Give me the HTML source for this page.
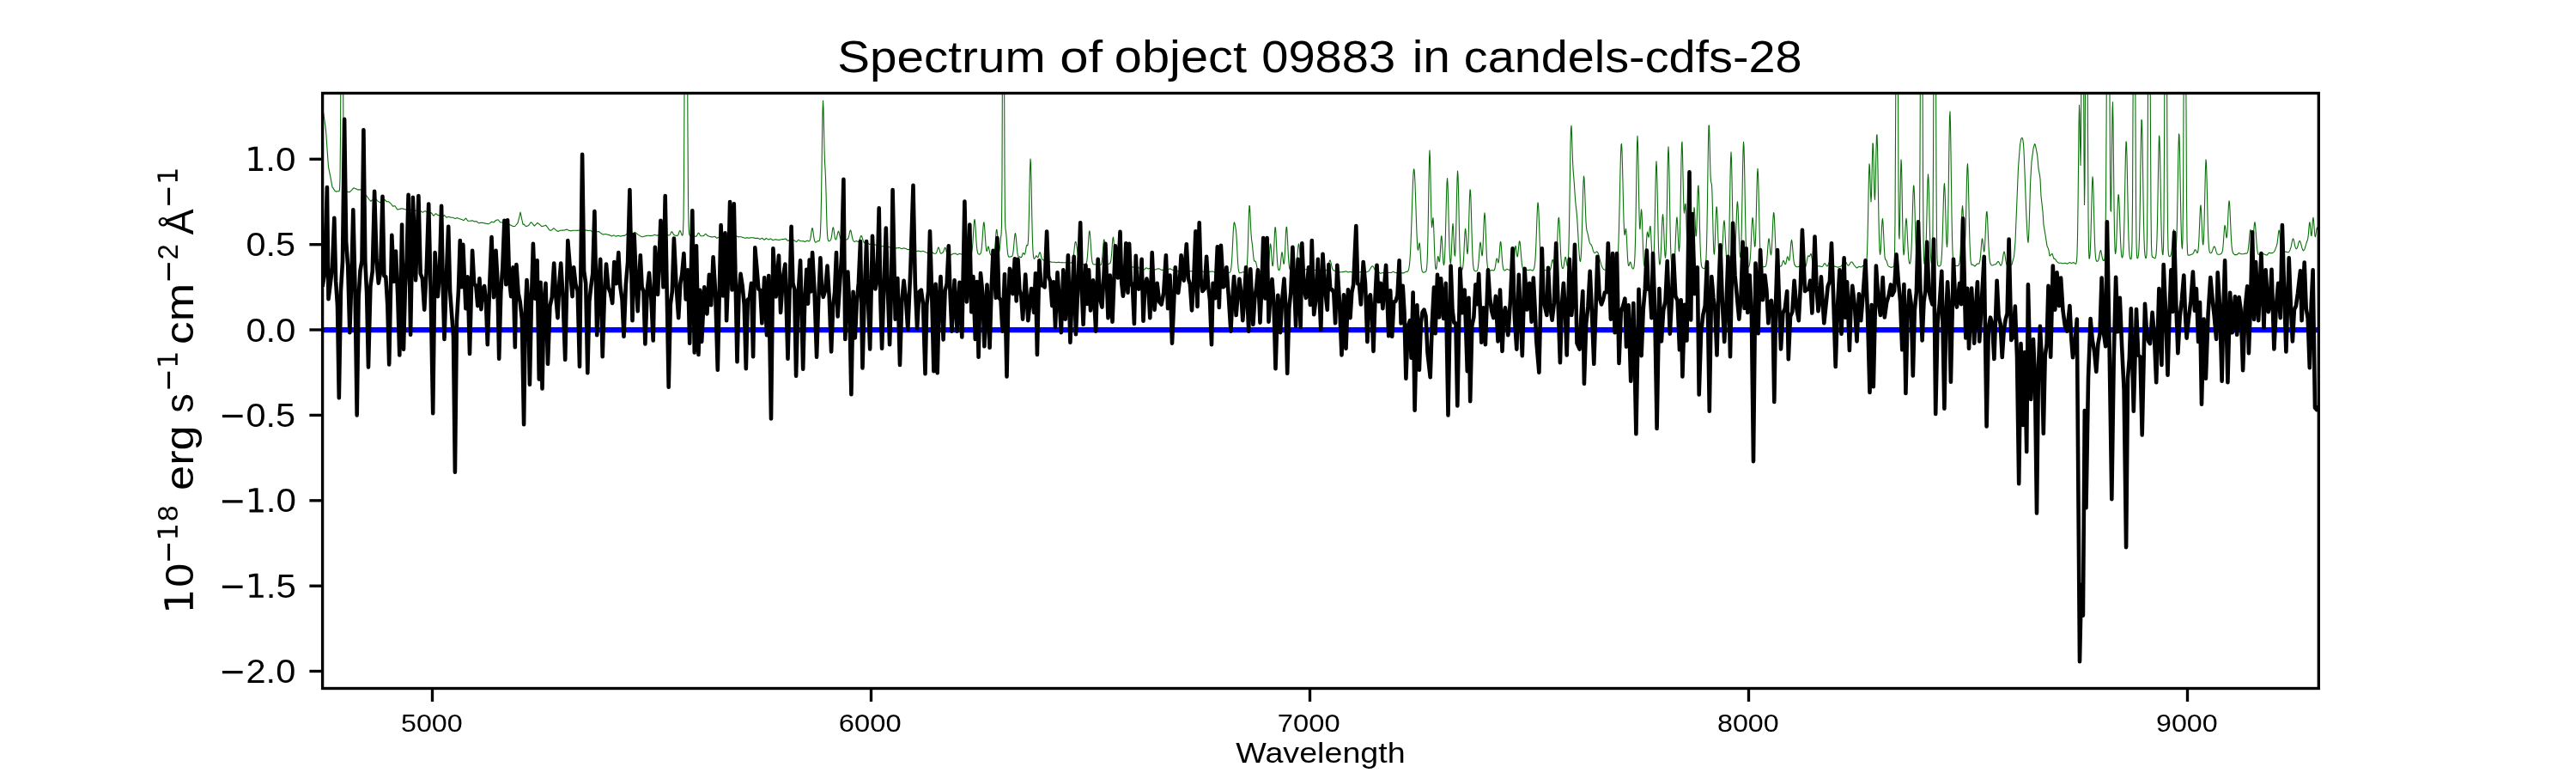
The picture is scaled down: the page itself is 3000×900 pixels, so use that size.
<!DOCTYPE html>
<html><head><meta charset="utf-8"><title>Spectrum</title>
<style>html,body{margin:0;padding:0;background:#fff}svg{display:block}text{font-family:"Liberation Sans",sans-serif;fill:#000}</style>
</head><body>
<svg width="3000" height="900" viewBox="0 0 3000 900">
<rect width="3000" height="900" fill="#fff"/>
<defs><clipPath id="ax"><rect x="375.6" y="108.5" width="2324.7" height="693.0"/></clipPath></defs>
<g clip-path="url(#ax)" fill="none" stroke-linejoin="round" stroke-linecap="butt">
<path d="M375.6,384 L2700.3,384" stroke="#0000ff" stroke-width="6.25"/>
<path d="M375.0,128.1 L375.5,129.1 L376.0,130.1 L376.5,131.1 L377.0,133.2 L377.5,137.1 L378.0,140.5 L378.5,144.0 L379.0,147.4 L379.5,152.1 L380.0,158.8 L380.5,166.1 L381.0,173.3 L381.5,180.6 L382.0,187.8 L382.5,194.2 L383.0,196.8 L383.5,199.3 L384.0,201.9 L384.5,204.4 L385.0,206.9 L385.5,209.7 L386.0,212.4 L386.5,215.1 L387.0,217.8 L387.5,218.3 L388.0,219.1 L388.5,219.9 L389.0,220.7 L389.5,221.5 L390.0,222.3 L390.5,222.6 L391.0,222.8 L391.5,223.1 L392.0,223.1 L392.5,222.8 L393.0,222.8 L393.5,222.8 L394.0,222.7 L394.5,222.7 L395.0,222.5 L395.5,220.7 L396.0,208.6 L396.5,157.7 L397.0,60.4 L397.5,60.5 L398.0,60.6 L398.5,60.6 L399.0,60.7 L399.5,60.7 L400.0,172.6 L400.5,211.8 L401.0,220.1 L401.5,221.4 L402.0,221.7 L402.5,221.8 L403.0,222.1 L403.5,222.5 L404.0,222.8 L404.5,223.2 L405.0,223.5 L405.5,223.5 L406.0,223.5 L406.5,223.6 L407.0,223.6 L407.5,223.3 L408.0,222.8 L408.5,222.3 L409.0,221.9 L409.5,221.4 L410.0,220.9 L410.5,220.3 L411.0,219.7 L411.5,219.2 L412.0,218.8 L412.5,219.1 L413.0,219.3 L413.5,219.5 L414.0,219.7 L414.5,219.9 L415.0,220.0 L415.5,220.3 L416.0,220.6 L416.5,220.9 L417.0,221.0 L417.5,220.9 L418.0,220.9 L418.5,220.9 L419.0,220.9 L419.5,220.9 L420.0,220.9 L420.5,221.1 L421.0,221.2 L421.5,221.8 L422.0,222.5 L422.5,223.3 L423.0,223.8 L423.5,224.4 L424.0,225.0 L424.5,225.5 L425.0,226.1 L425.5,226.6 L426.0,227.2 L426.5,227.7 L427.0,228.2 L427.5,228.8 L428.0,229.5 L428.5,230.2 L429.0,230.9 L429.5,231.7 L430.0,232.4 L430.5,232.9 L431.0,233.3 L431.5,233.8 L432.0,234.3 L432.5,233.6 L433.0,233.3 L433.5,233.0 L434.0,232.7 L434.5,232.4 L435.0,232.1 L435.5,231.6 L436.0,231.2 L436.5,230.8 L437.0,230.7 L437.5,231.3 L438.0,231.8 L438.5,232.4 L439.0,233.0 L439.5,233.6 L440.0,234.1 L440.5,234.4 L441.0,234.7 L441.5,235.0 L442.0,235.2 L442.5,235.5 L443.0,236.1 L443.5,235.8 L444.0,235.5 L444.5,235.2 L445.0,235.0 L445.5,234.4 L446.0,233.8 L446.5,233.3 L447.0,232.7 L447.5,232.2 L448.0,232.5 L448.5,233.0 L449.0,233.5 L449.5,234.0 L450.0,234.6 L450.5,234.6 L451.0,234.7 L451.5,234.7 L452.0,234.8 L452.5,234.8 L453.0,235.2 L453.5,235.6 L454.0,236.0 L454.5,236.4 L455.0,236.8 L455.5,237.5 L456.0,238.1 L456.5,238.8 L457.0,239.4 L457.5,240.1 L458.0,240.1 L458.5,240.0 L459.0,239.9 L459.5,239.8 L460.0,239.7 L460.5,240.5 L461.0,241.3 L461.5,242.1 L462.0,242.9 L462.5,243.7 L463.0,244.0 L463.5,243.9 L464.0,243.8 L464.5,243.7 L465.0,243.5 L465.5,243.4 L466.0,243.3 L466.5,243.1 L467.0,243.0 L467.5,242.9 L468.0,242.9 L468.5,243.0 L469.0,243.0 L469.5,243.1 L470.0,243.3 L470.5,243.4 L471.0,243.6 L471.5,243.7 L472.0,243.8 L472.5,243.9 L473.0,244.1 L473.5,244.2 L474.0,244.4 L474.5,244.6 L475.0,244.7 L475.5,244.7 L476.0,244.6 L476.5,244.5 L477.0,244.4 L477.5,244.3 L478.0,244.4 L478.5,244.4 L479.0,244.5 L479.5,244.5 L480.0,244.6 L480.5,244.7 L481.0,244.8 L481.5,244.9 L482.0,245.0 L482.5,245.1 L483.0,245.1 L483.5,245.2 L484.0,245.2 L484.5,245.3 L485.0,245.3 L485.5,245.5 L486.0,245.6 L486.5,245.8 L487.0,246.0 L487.5,246.1 L488.0,246.1 L488.5,246.0 L489.0,245.9 L489.5,245.9 L490.0,245.8 L490.5,246.1 L491.0,246.4 L491.5,246.7 L492.0,247.0 L492.5,247.2 L493.0,246.9 L493.5,246.5 L494.0,246.1 L494.5,245.9 L495.0,245.6 L495.5,245.9 L496.0,246.2 L496.5,246.4 L497.0,246.7 L497.5,247.0 L498.0,247.2 L498.5,247.3 L499.0,247.5 L499.5,247.7 L500.0,247.9 L500.5,247.9 L501.0,247.9 L501.5,247.9 L502.0,247.9 L502.5,247.9 L503.0,248.6 L503.5,249.4 L504.0,250.0 L504.5,250.6 L505.0,251.3 L505.5,250.7 L506.0,250.2 L506.5,249.7 L507.0,249.2 L507.5,248.7 L508.0,249.0 L508.5,249.4 L509.0,249.8 L509.5,250.2 L510.0,250.5 L510.5,250.6 L511.0,250.6 L511.5,250.7 L512.0,250.7 L512.5,250.8 L513.0,251.2 L513.5,251.5 L514.0,251.9 L514.5,252.3 L515.0,252.7 L515.5,252.3 L516.0,251.9 L516.5,251.5 L517.0,251.0 L517.5,250.6 L518.0,251.1 L518.5,251.7 L519.0,252.2 L519.5,252.7 L520.0,253.2 L520.5,253.0 L521.0,252.9 L521.5,252.7 L522.0,252.5 L522.5,252.4 L523.0,252.5 L523.5,252.7 L524.0,252.8 L524.5,253.0 L525.0,253.2 L525.5,253.2 L526.0,253.2 L526.5,253.2 L527.0,253.2 L527.5,253.2 L528.0,253.5 L528.5,253.7 L529.0,254.0 L529.5,254.2 L530.0,254.5 L530.5,254.3 L531.0,254.2 L531.5,254.0 L532.0,253.8 L532.5,253.6 L533.0,253.9 L533.5,254.1 L534.0,254.3 L534.5,254.5 L535.0,254.7 L535.5,254.8 L536.0,255.0 L536.5,255.1 L537.0,255.2 L537.5,255.4 L538.0,255.6 L538.5,255.9 L539.0,256.2 L539.5,256.5 L540.0,256.7 L540.5,256.2 L541.0,255.7 L541.5,255.2 L542.0,254.6 L542.5,254.1 L543.0,254.7 L543.5,255.3 L544.0,256.0 L544.5,256.6 L545.0,257.3 L545.5,257.3 L546.0,257.3 L546.5,257.3 L547.0,257.3 L547.5,257.3 L548.0,257.2 L548.5,257.1 L549.0,257.0 L549.5,256.9 L550.0,256.8 L550.5,257.0 L551.0,257.2 L551.5,257.5 L552.0,257.7 L552.5,257.9 L553.0,257.9 L553.5,257.9 L554.0,257.8 L554.5,257.8 L555.0,257.8 L555.5,258.2 L556.0,258.6 L556.5,259.0 L557.0,259.4 L557.5,259.8 L558.0,259.7 L558.5,259.6 L559.0,259.5 L559.5,259.4 L560.0,259.3 L560.5,259.3 L561.0,259.4 L561.5,259.4 L562.0,259.4 L562.5,259.5 L563.0,259.6 L563.5,259.7 L564.0,259.8 L564.5,259.9 L565.0,260.0 L565.5,260.1 L566.0,260.2 L566.5,260.3 L567.0,260.4 L567.5,260.5 L568.0,260.6 L568.5,260.7 L569.0,260.7 L569.5,260.4 L570.0,260.1 L570.5,259.7 L571.0,259.4 L571.5,259.0 L572.0,258.6 L572.5,258.3 L573.0,258.4 L573.5,258.5 L574.0,258.7 L574.5,258.8 L575.0,258.9 L575.5,258.5 L576.0,258.0 L576.5,257.5 L577.0,257.0 L577.5,256.6 L578.0,256.4 L578.5,256.3 L579.0,256.1 L579.5,255.9 L580.0,255.8 L580.5,256.4 L581.0,256.9 L581.5,257.5 L582.0,258.1 L582.5,258.6 L583.0,258.7 L583.5,258.8 L584.0,258.9 L584.5,259.0 L585.0,259.1 L585.5,259.3 L586.0,259.5 L586.5,259.7 L587.0,259.9 L587.5,260.1 L588.0,260.2 L588.5,260.2 L589.0,260.3 L589.5,260.3 L590.0,260.4 L590.5,260.5 L591.0,260.7 L591.5,260.8 L592.0,261.0 L592.5,261.1 L593.0,261.3 L593.5,261.5 L594.0,261.7 L594.5,262.0 L595.0,262.2 L595.5,262.5 L596.0,262.8 L596.5,263.0 L597.0,263.3 L597.5,263.6 L598.0,263.5 L598.5,263.5 L599.0,263.5 L599.5,263.5 L600.0,263.1 L600.5,262.6 L601.0,262.0 L601.5,261.4 L602.0,260.8 L602.5,260.2 L603.0,259.6 L603.5,257.7 L604.0,255.7 L604.5,253.8 L605.0,251.9 L605.5,249.4 L606.0,247.0 L606.5,249.3 L607.0,251.7 L607.5,254.1 L608.0,256.5 L608.5,258.9 L609.0,261.2 L609.5,261.1 L610.0,261.0 L610.5,261.5 L611.0,262.0 L611.5,262.6 L612.0,263.1 L612.5,263.6 L613.0,263.5 L613.5,263.3 L614.0,263.2 L614.5,263.0 L615.0,262.9 L615.5,262.6 L616.0,261.9 L616.5,261.2 L617.0,260.5 L617.5,259.8 L618.0,259.2 L618.5,258.8 L619.0,259.2 L619.5,259.6 L620.0,260.0 L620.5,260.7 L621.0,261.4 L621.5,262.1 L622.0,262.8 L622.5,263.0 L623.0,262.5 L623.5,261.9 L624.0,261.4 L624.5,260.9 L625.0,260.3 L625.5,259.9 L626.0,259.5 L626.5,259.6 L627.0,260.1 L627.5,260.5 L628.0,261.0 L628.5,261.4 L629.0,261.9 L629.5,262.4 L630.0,262.8 L630.5,263.4 L631.0,263.8 L631.5,263.6 L632.0,263.4 L632.5,263.2 L633.0,263.1 L633.5,262.9 L634.0,262.8 L634.5,262.7 L635.0,262.6 L635.5,262.1 L636.0,262.7 L636.5,263.3 L637.0,263.9 L637.5,264.5 L638.0,265.2 L638.5,265.9 L639.0,266.6 L639.5,267.3 L640.0,268.0 L640.5,268.3 L641.0,268.2 L641.5,268.1 L642.0,268.0 L642.5,267.9 L643.0,267.4 L643.5,266.9 L644.0,266.4 L644.5,265.9 L645.0,265.7 L645.5,266.1 L646.0,266.6 L646.5,267.0 L647.0,267.4 L647.5,267.9 L648.0,268.3 L648.5,268.6 L649.0,269.0 L649.5,269.4 L650.0,269.4 L650.5,269.2 L651.0,268.9 L651.5,268.7 L652.0,268.5 L652.5,268.3 L653.0,268.2 L653.5,268.2 L654.0,268.2 L654.5,268.1 L655.0,268.1 L655.5,268.1 L656.0,268.1 L656.5,268.0 L657.0,268.0 L657.5,268.0 L658.0,267.8 L658.5,267.6 L659.0,267.4 L659.5,267.2 L660.0,267.0 L660.5,267.3 L661.0,267.5 L661.5,267.7 L662.0,267.9 L662.5,268.2 L663.0,268.4 L663.5,268.5 L664.0,268.6 L664.5,268.8 L665.0,268.9 L665.5,268.8 L666.0,268.7 L666.5,268.5 L667.0,268.4 L667.5,268.3 L668.0,268.3 L668.5,268.2 L669.0,268.2 L669.5,268.2 L670.0,268.2 L670.5,268.2 L671.0,268.3 L671.5,268.3 L672.0,268.4 L672.5,268.4 L673.0,268.3 L673.5,268.3 L674.0,268.2 L674.5,268.1 L675.0,268.1 L675.5,268.1 L676.0,268.0 L676.5,268.0 L677.0,268.0 L677.5,268.0 L678.0,268.1 L678.5,268.2 L679.0,268.2 L679.5,268.3 L680.0,268.3 L680.5,268.3 L681.0,268.2 L681.5,268.1 L682.0,268.1 L682.5,268.0 L683.0,268.1 L683.5,268.1 L684.0,268.2 L684.5,268.4 L685.0,268.5 L685.5,268.5 L686.0,268.4 L686.5,268.3 L687.0,268.2 L687.5,268.2 L688.0,268.5 L688.5,268.9 L689.0,269.3 L689.5,269.6 L690.0,270.0 L690.5,270.0 L691.0,270.1 L691.5,270.1 L692.0,270.2 L692.5,270.2 L693.0,270.1 L693.5,270.1 L694.0,270.0 L694.5,269.9 L695.0,269.8 L695.5,269.7 L696.0,269.7 L696.5,269.6 L697.0,269.6 L697.5,269.5 L698.0,270.0 L698.5,270.4 L699.0,270.9 L699.5,271.3 L700.0,271.7 L700.5,272.0 L701.0,272.3 L701.5,272.6 L702.0,272.8 L702.5,273.1 L703.0,273.0 L703.5,272.8 L704.0,272.7 L704.5,272.6 L705.0,272.4 L705.5,272.6 L706.0,272.7 L706.5,272.9 L707.0,273.0 L707.5,273.2 L708.0,273.3 L708.5,273.4 L709.0,273.5 L709.5,273.6 L710.0,273.7 L710.5,274.0 L711.0,274.3 L711.5,274.6 L712.0,274.8 L712.5,275.0 L713.0,274.7 L713.5,274.5 L714.0,274.3 L714.5,274.1 L715.0,273.9 L715.5,274.1 L716.0,274.4 L716.5,274.7 L717.0,274.9 L717.5,275.2 L718.0,275.0 L718.5,274.8 L719.0,274.6 L719.5,274.5 L720.0,274.3 L720.5,274.5 L721.0,274.6 L721.5,274.8 L722.0,275.0 L722.5,275.1 L723.0,275.0 L723.5,274.9 L724.0,274.8 L724.5,274.6 L725.0,274.5 L725.5,274.5 L726.0,274.4 L726.5,274.4 L727.0,274.4 L727.5,274.2 L728.0,273.8 L728.5,273.5 L729.0,273.1 L729.5,272.8 L730.0,272.4 L730.5,272.4 L731.0,272.3 L731.5,272.3 L732.0,272.2 L732.5,272.1 L733.0,272.0 L733.5,271.9 L734.0,271.8 L734.5,271.7 L735.0,271.6 L735.5,271.5 L736.0,271.5 L736.5,271.5 L737.0,271.4 L737.5,271.4 L738.0,271.1 L738.5,270.9 L739.0,270.7 L739.5,270.5 L740.0,270.8 L740.5,271.1 L741.0,271.5 L741.5,271.9 L742.0,272.2 L742.5,272.6 L743.0,273.1 L743.5,273.4 L744.0,273.7 L744.5,274.1 L745.0,274.4 L745.5,274.7 L746.0,274.9 L746.5,275.2 L747.0,275.4 L747.5,275.7 L748.0,275.7 L748.5,275.7 L749.0,275.7 L749.5,275.5 L750.0,275.2 L750.5,275.1 L751.0,275.0 L751.5,274.8 L752.0,274.7 L752.5,274.6 L753.0,274.5 L753.5,274.4 L754.0,274.3 L754.5,274.3 L755.0,274.2 L755.5,274.3 L756.0,274.3 L756.5,274.4 L757.0,274.5 L757.5,274.6 L758.0,274.5 L758.5,274.4 L759.0,274.4 L759.5,274.3 L760.0,274.3 L760.5,274.1 L761.0,273.9 L761.5,273.7 L762.0,273.5 L762.5,273.3 L763.0,273.5 L763.5,273.7 L764.0,273.8 L764.5,274.0 L765.0,274.2 L765.5,274.1 L766.0,274.0 L766.5,273.9 L767.0,273.8 L767.5,273.6 L768.0,273.6 L768.5,273.6 L769.0,273.5 L769.5,273.5 L770.0,273.5 L770.5,273.8 L771.0,274.1 L771.5,274.3 L772.0,274.6 L772.5,274.9 L773.0,274.9 L773.5,274.8 L774.0,274.8 L774.5,274.7 L775.0,274.7 L775.5,274.5 L776.0,274.3 L776.5,274.1 L777.0,273.9 L777.5,273.7 L778.0,273.8 L778.5,273.9 L779.0,274.0 L779.5,273.9 L780.0,273.6 L780.5,273.0 L781.0,271.9 L781.5,270.7 L782.0,269.9 L782.5,269.7 L783.0,270.1 L783.5,271.1 L784.0,272.2 L784.5,273.0 L785.0,273.5 L785.5,273.8 L786.0,274.1 L786.5,274.2 L787.0,274.3 L787.5,274.4 L788.0,274.4 L788.5,274.5 L789.0,274.3 L789.5,273.9 L790.0,273.1 L790.5,271.5 L791.0,269.9 L791.5,268.8 L792.0,268.6 L792.5,269.1 L793.0,270.7 L793.5,272.2 L794.0,273.4 L794.5,274.1 L795.0,273.9 L795.5,270.3 L796.0,255.7 L796.5,210.9 L797.0,105.0 L797.5,60.5 L798.0,60.5 L798.5,60.5 L799.0,60.4 L799.5,60.4 L800.0,60.4 L800.5,60.1 L801.0,156.3 L801.5,233.6 L802.0,262.9 L802.5,271.4 L803.0,273.7 L803.5,274.3 L804.0,274.6 L804.5,274.9 L805.0,275.1 L805.5,275.0 L806.0,274.8 L806.5,274.7 L807.0,274.5 L807.5,274.4 L808.0,274.6 L808.5,274.8 L809.0,275.0 L809.5,275.2 L810.0,275.4 L810.5,275.3 L811.0,275.0 L811.5,274.4 L812.0,273.5 L812.5,272.5 L813.0,271.5 L813.5,271.1 L814.0,271.4 L814.5,272.3 L815.0,273.3 L815.5,274.1 L816.0,274.6 L816.5,274.7 L817.0,274.8 L817.5,274.7 L818.0,274.7 L818.5,274.7 L819.0,274.7 L819.5,274.5 L820.0,274.0 L820.5,273.6 L821.0,272.9 L821.5,272.5 L822.0,272.4 L822.5,272.9 L823.0,273.4 L823.5,274.0 L824.0,274.4 L824.5,274.6 L825.0,274.6 L825.5,275.0 L826.0,275.2 L826.5,275.4 L827.0,275.6 L827.5,275.8 L828.0,275.8 L828.5,275.9 L829.0,275.9 L829.5,275.9 L830.0,275.9 L830.5,275.8 L831.0,275.7 L831.5,275.6 L832.0,275.5 L832.5,275.4 L833.0,275.8 L833.5,276.2 L834.0,276.6 L834.5,277.0 L835.0,277.4 L835.5,277.0 L836.0,276.7 L836.5,276.4 L837.0,276.1 L837.5,275.8 L838.0,276.1 L838.5,276.4 L839.0,276.7 L839.5,277.0 L840.0,277.3 L840.5,276.7 L841.0,276.2 L841.5,275.6 L842.0,275.0 L842.5,274.5 L843.0,274.4 L843.5,274.4 L844.0,274.4 L844.5,274.4 L845.0,274.4 L845.5,274.8 L846.0,275.3 L846.5,275.8 L847.0,276.2 L847.5,276.7 L848.0,276.7 L848.5,276.6 L849.0,276.6 L849.5,276.5 L850.0,276.5 L850.5,276.4 L851.0,276.3 L851.5,276.2 L852.0,276.0 L852.5,275.9 L853.0,276.0 L853.5,276.0 L854.0,276.1 L854.5,276.1 L855.0,276.2 L855.5,275.9 L856.0,275.7 L856.5,275.4 L857.0,275.2 L857.5,274.9 L858.0,275.1 L858.5,275.3 L859.0,275.5 L859.5,275.7 L860.0,275.9 L860.5,275.8 L861.0,275.8 L861.5,275.8 L862.0,275.7 L862.5,275.7 L863.0,275.8 L863.5,275.9 L864.0,276.1 L864.5,276.2 L865.0,276.4 L865.5,276.5 L866.0,276.7 L866.5,276.9 L867.0,277.1 L867.5,277.3 L868.0,277.2 L868.5,277.1 L869.0,277.0 L869.5,276.9 L870.0,276.8 L870.5,276.9 L871.0,277.0 L871.5,277.1 L872.0,277.1 L872.5,277.2 L873.0,277.1 L873.5,277.0 L874.0,276.8 L874.5,276.7 L875.0,276.6 L875.5,276.7 L876.0,276.7 L876.5,276.8 L877.0,276.9 L877.5,276.9 L878.0,277.0 L878.5,277.1 L879.0,277.3 L879.5,277.4 L880.0,277.5 L880.5,277.4 L881.0,277.4 L881.5,277.4 L882.0,277.4 L882.5,277.3 L883.0,277.6 L883.5,277.8 L884.0,278.1 L884.5,278.3 L885.0,278.6 L885.5,278.3 L886.0,278.0 L886.5,277.8 L887.0,277.5 L887.5,277.2 L888.0,277.6 L888.5,278.0 L889.0,278.5 L889.5,278.9 L890.0,279.3 L890.5,278.9 L891.0,278.5 L891.5,278.2 L892.0,277.8 L892.5,277.4 L893.0,277.7 L893.5,278.1 L894.0,278.4 L894.5,278.7 L895.0,279.0 L895.5,278.8 L896.0,278.5 L896.5,278.3 L897.0,278.1 L897.5,277.9 L898.0,278.2 L898.5,278.6 L899.0,279.0 L899.5,279.3 L900.0,279.7 L900.5,279.5 L901.0,279.3 L901.5,279.2 L902.0,279.0 L902.5,278.8 L903.0,278.9 L903.5,278.9 L904.0,279.0 L904.5,279.1 L905.0,279.1 L905.5,279.2 L906.0,279.3 L906.5,279.4 L907.0,279.4 L907.5,279.5 L908.0,279.3 L908.5,279.2 L909.0,279.0 L909.5,278.8 L910.0,278.7 L910.5,278.7 L911.0,278.6 L911.5,278.6 L912.0,278.6 L912.5,278.5 L913.0,278.4 L913.5,278.3 L914.0,278.2 L914.5,278.1 L915.0,278.0 L915.5,278.5 L916.0,279.0 L916.5,279.5 L917.0,279.9 L917.5,280.4 L918.0,280.2 L918.5,279.9 L919.0,279.7 L919.5,279.5 L920.0,279.2 L920.5,279.3 L921.0,279.3 L921.5,279.4 L922.0,279.4 L922.5,279.4 L923.0,279.5 L923.5,279.7 L924.0,279.8 L924.5,279.9 L925.0,280.0 L925.5,280.3 L926.0,280.6 L926.5,281.0 L927.0,281.3 L927.5,281.6 L928.0,281.1 L928.5,280.7 L929.0,280.2 L929.5,279.7 L930.0,279.2 L930.5,279.6 L931.0,279.9 L931.5,280.2 L932.0,280.5 L932.5,280.8 L933.0,280.8 L933.5,280.8 L934.0,280.7 L934.5,280.7 L935.0,280.6 L935.5,280.8 L936.0,281.0 L936.5,281.1 L937.0,281.3 L937.5,281.5 L938.0,281.2 L938.5,280.9 L939.0,280.6 L939.5,280.4 L940.0,280.1 L940.5,280.3 L941.0,280.6 L941.5,280.8 L942.0,280.9 L942.5,280.8 L943.0,280.3 L943.5,279.1 L944.0,276.7 L944.5,273.4 L945.0,269.6 L945.5,266.5 L946.0,265.4 L946.5,266.7 L947.0,269.9 L947.5,273.8 L948.0,277.3 L948.5,279.8 L949.0,281.3 L949.5,282.0 L950.0,282.2 L950.5,282.0 L951.0,281.6 L951.5,281.2 L952.0,280.9 L952.5,280.5 L953.0,280.6 L953.5,280.6 L954.0,280.4 L954.5,279.4 L955.0,276.6 L955.5,269.6 L956.0,255.3 L956.5,231.1 L957.0,197.4 L957.5,160.1 L958.0,129.8 L958.5,117.3 L959.0,126.1 L959.5,149.1 L960.0,173.0 L960.5,188.6 L961.0,196.8 L961.5,206.5 L962.0,223.3 L962.5,244.1 L963.0,262.0 L963.5,273.0 L964.0,278.0 L964.5,279.9 L965.0,280.6 L965.5,280.6 L966.0,280.5 L966.5,280.3 L967.0,279.9 L967.5,279.2 L968.0,277.7 L968.5,275.1 L969.0,271.5 L969.5,267.6 L970.0,265.0 L970.5,264.9 L971.0,267.2 L971.5,271.0 L972.0,274.8 L972.5,277.6 L973.0,278.8 L973.5,278.9 L974.0,278.2 L974.5,276.6 L975.0,274.2 L975.5,271.8 L976.0,269.9 L976.5,269.2 L977.0,270.3 L977.5,272.5 L978.0,274.9 L978.5,276.9 L979.0,278.2 L979.5,278.8 L980.0,279.0 L980.5,279.0 L981.0,279.0 L981.5,279.0 L982.0,278.9 L982.5,278.9 L983.0,278.9 L983.5,279.0 L984.0,279.0 L984.5,279.0 L985.0,279.1 L985.5,279.0 L986.0,278.9 L986.5,278.7 L987.0,278.5 L987.5,278.0 L988.0,277.1 L988.5,275.5 L989.0,273.2 L989.5,270.6 L990.0,268.6 L990.5,267.9 L991.0,268.8 L991.5,271.1 L992.0,273.8 L992.5,276.3 L993.0,278.4 L993.5,279.7 L994.0,280.6 L994.5,281.1 L995.0,281.5 L995.5,281.3 L996.0,281.1 L996.5,280.9 L997.0,280.7 L997.5,280.5 L998.0,280.8 L998.5,281.0 L999.0,281.3 L999.5,281.4 L1000.0,281.4 L1000.5,280.7 L1001.0,279.6 L1001.5,278.0 L1002.0,276.3 L1002.5,274.9 L1003.0,274.3 L1003.5,274.8 L1004.0,276.2 L1004.5,278.0 L1005.0,279.6 L1005.5,281.0 L1006.0,281.9 L1006.5,282.5 L1007.0,282.9 L1007.5,283.2 L1008.0,283.1 L1008.5,283.0 L1009.0,282.9 L1009.5,282.7 L1010.0,282.6 L1010.5,283.0 L1011.0,283.4 L1011.5,283.7 L1012.0,284.1 L1012.5,284.5 L1013.0,284.3 L1013.5,284.2 L1014.0,284.0 L1014.5,283.8 L1015.0,283.6 L1015.5,283.8 L1016.0,283.9 L1016.5,284.1 L1017.0,284.2 L1017.5,284.4 L1018.0,284.6 L1018.5,284.8 L1019.0,284.9 L1019.5,285.1 L1020.0,285.3 L1020.5,285.5 L1021.0,285.6 L1021.5,285.7 L1022.0,285.9 L1022.5,286.0 L1023.0,286.1 L1023.5,286.2 L1024.0,286.3 L1024.5,286.4 L1025.0,286.4 L1025.5,286.5 L1026.0,286.6 L1026.5,286.7 L1027.0,286.7 L1027.5,286.8 L1028.0,286.7 L1028.5,286.6 L1029.0,286.5 L1029.5,286.5 L1030.0,286.4 L1030.5,286.3 L1031.0,286.3 L1031.5,286.3 L1032.0,286.2 L1032.5,286.2 L1033.0,286.5 L1033.5,286.8 L1034.0,287.1 L1034.5,287.3 L1035.0,287.6 L1035.5,287.7 L1036.0,287.7 L1036.5,287.7 L1037.0,287.8 L1037.5,287.8 L1038.0,287.7 L1038.5,287.6 L1039.0,287.5 L1039.5,287.4 L1040.0,287.3 L1040.5,287.6 L1041.0,288.0 L1041.5,288.3 L1042.0,288.7 L1042.5,289.0 L1043.0,289.0 L1043.5,288.9 L1044.0,288.9 L1044.5,288.9 L1045.0,288.8 L1045.5,288.7 L1046.0,288.6 L1046.5,288.6 L1047.0,288.5 L1047.5,288.4 L1048.0,288.6 L1048.5,288.9 L1049.0,289.2 L1049.5,289.4 L1050.0,289.7 L1050.5,289.5 L1051.0,289.4 L1051.5,289.2 L1052.0,289.0 L1052.5,288.9 L1053.0,289.0 L1053.5,289.1 L1054.0,289.3 L1054.5,289.4 L1055.0,289.6 L1055.5,289.8 L1056.0,290.1 L1056.5,290.3 L1057.0,290.6 L1057.5,290.8 L1058.0,290.6 L1058.5,290.4 L1059.0,290.2 L1059.5,290.0 L1060.0,289.8 L1060.5,290.1 L1061.0,290.4 L1061.5,290.7 L1062.0,291.0 L1062.5,291.3 L1063.0,291.2 L1063.5,291.1 L1064.0,291.0 L1064.5,290.9 L1065.0,290.8 L1065.5,291.1 L1066.0,291.5 L1066.5,291.9 L1067.0,292.2 L1067.5,292.6 L1068.0,292.5 L1068.5,292.3 L1069.0,292.2 L1069.5,292.1 L1070.0,292.0 L1070.5,292.2 L1071.0,292.4 L1071.5,292.6 L1072.0,292.8 L1072.5,293.0 L1073.0,292.8 L1073.5,292.7 L1074.0,292.5 L1074.5,292.3 L1075.0,292.2 L1075.5,292.4 L1076.0,292.7 L1076.5,292.9 L1077.0,293.1 L1077.5,293.4 L1078.0,293.6 L1078.5,293.9 L1079.0,294.1 L1079.5,294.4 L1080.0,294.7 L1080.5,294.6 L1081.0,294.6 L1081.5,294.6 L1082.0,294.5 L1082.5,294.5 L1083.0,294.2 L1083.5,293.9 L1084.0,293.6 L1084.5,293.4 L1085.0,293.1 L1085.5,293.5 L1086.0,293.9 L1086.5,294.3 L1087.0,294.8 L1087.5,295.2 L1088.0,295.2 L1088.5,295.2 L1089.0,295.3 L1089.5,295.2 L1090.0,295.0 L1090.5,294.4 L1091.0,293.3 L1091.5,291.7 L1092.0,289.9 L1092.5,288.3 L1093.0,288.0 L1093.5,288.9 L1094.0,290.6 L1094.5,292.6 L1095.0,294.3 L1095.5,295.0 L1096.0,295.1 L1096.5,295.0 L1097.0,294.7 L1097.5,294.3 L1098.0,294.1 L1098.5,293.5 L1099.0,292.3 L1099.5,290.7 L1100.0,289.1 L1100.5,288.2 L1101.0,288.5 L1101.5,290.0 L1102.0,292.0 L1102.5,294.0 L1103.0,295.3 L1103.5,296.0 L1104.0,296.4 L1104.5,296.6 L1105.0,296.7 L1105.5,296.7 L1106.0,296.8 L1106.5,296.8 L1107.0,296.8 L1107.5,296.9 L1108.0,296.6 L1108.5,296.3 L1109.0,296.0 L1109.5,295.7 L1110.0,295.4 L1110.5,295.3 L1111.0,295.3 L1111.5,295.2 L1112.0,295.1 L1112.5,295.0 L1113.0,295.3 L1113.5,295.6 L1114.0,295.9 L1114.5,296.2 L1115.0,296.5 L1115.5,296.3 L1116.0,296.0 L1116.5,295.7 L1117.0,295.5 L1117.5,295.2 L1118.0,295.4 L1118.5,295.6 L1119.0,295.7 L1119.5,295.9 L1120.0,296.1 L1120.5,295.9 L1121.0,295.7 L1121.5,295.6 L1122.0,295.4 L1122.5,295.2 L1123.0,295.6 L1123.5,295.9 L1124.0,296.2 L1124.5,296.5 L1125.0,296.8 L1125.5,296.8 L1126.0,296.7 L1126.5,296.7 L1127.0,296.7 L1127.5,296.6 L1128.0,296.6 L1128.5,296.5 L1129.0,296.5 L1129.5,296.4 L1130.0,296.3 L1130.5,296.1 L1131.0,295.6 L1131.5,294.4 L1132.0,292.0 L1132.5,287.7 L1133.0,281.3 L1133.5,273.1 L1134.0,264.5 L1134.5,257.8 L1135.0,255.3 L1135.5,257.8 L1136.0,264.4 L1136.5,272.9 L1137.0,281.1 L1137.5,287.4 L1138.0,291.7 L1138.5,294.1 L1139.0,295.3 L1139.5,295.8 L1140.0,296.1 L1140.5,296.1 L1141.0,296.0 L1141.5,295.7 L1142.0,295.1 L1142.5,293.7 L1143.0,291.0 L1143.5,286.3 L1144.0,279.7 L1144.5,271.8 L1145.0,264.4 L1145.5,259.5 L1146.0,258.8 L1146.5,262.7 L1147.0,269.7 L1147.5,277.5 L1148.0,284.8 L1148.5,289.8 L1149.0,292.3 L1149.5,292.4 L1150.0,290.7 L1150.5,288.1 L1151.0,286.9 L1151.5,287.9 L1152.0,290.5 L1152.5,293.1 L1153.0,295.2 L1153.5,296.3 L1154.0,296.9 L1154.5,297.2 L1155.0,297.4 L1155.5,297.5 L1156.0,297.5 L1156.5,297.5 L1157.0,297.2 L1157.5,296.4 L1158.0,294.1 L1158.5,290.2 L1159.0,284.5 L1159.5,277.5 L1160.0,271.0 L1160.5,267.3 L1161.0,267.7 L1161.5,272.0 L1162.0,278.5 L1162.5,285.0 L1163.0,290.3 L1163.5,292.9 L1164.0,292.1 L1164.5,288.0 L1165.0,281.9 L1165.5,276.3 L1166.0,273.5 L1166.5,263.2 L1167.0,206.3 L1167.5,59.7 L1168.0,59.8 L1168.5,59.9 L1169.0,59.9 L1169.5,60.0 L1170.0,200.1 L1170.5,256.5 L1171.0,267.0 L1171.5,269.6 L1172.0,274.8 L1172.5,282.2 L1173.0,289.2 L1173.5,294.3 L1174.0,297.2 L1174.5,298.6 L1175.0,299.2 L1175.5,299.2 L1176.0,299.1 L1176.5,299.0 L1177.0,298.8 L1177.5,298.6 L1178.0,298.7 L1178.5,298.5 L1179.0,297.8 L1179.5,296.2 L1180.0,293.2 L1180.5,288.4 L1181.0,282.5 L1181.5,276.7 L1182.0,272.5 L1182.5,271.5 L1183.0,274.0 L1183.5,279.1 L1184.0,285.3 L1184.5,291.0 L1185.0,295.2 L1185.5,297.6 L1186.0,298.7 L1186.5,299.1 L1187.0,299.0 L1187.5,298.8 L1188.0,299.3 L1188.5,299.7 L1189.0,299.8 L1189.5,299.6 L1190.0,298.8 L1190.5,297.1 L1191.0,295.5 L1191.5,294.5 L1192.0,294.5 L1192.5,295.4 L1193.0,296.2 L1193.5,296.2 L1194.0,294.7 L1194.5,291.8 L1195.0,288.2 L1195.5,285.9 L1196.0,285.3 L1196.5,285.8 L1197.0,285.2 L1197.5,279.8 L1198.0,266.7 L1198.5,245.3 L1199.0,219.3 L1199.5,196.4 L1200.0,185.1 L1200.5,190.4 L1201.0,210.0 L1201.5,236.7 L1202.0,262.1 L1202.5,281.2 L1203.0,292.7 L1203.5,298.5 L1204.0,300.8 L1204.5,301.3 L1205.0,300.8 L1205.5,300.0 L1206.0,298.9 L1206.5,298.0 L1207.0,297.8 L1207.5,298.4 L1208.0,299.1 L1208.5,299.7 L1209.0,299.5 L1209.5,298.2 L1210.0,296.3 L1210.5,294.5 L1211.0,293.7 L1211.5,294.4 L1212.0,296.2 L1212.5,298.3 L1213.0,300.2 L1213.5,301.5 L1214.0,302.2 L1214.5,302.5 L1215.0,302.7 L1215.5,303.0 L1216.0,303.3 L1216.5,303.5 L1217.0,303.8 L1217.5,304.0 L1218.0,303.9 L1218.5,303.8 L1219.0,303.7 L1219.5,303.5 L1220.0,303.4 L1220.5,303.7 L1221.0,303.9 L1221.5,304.2 L1222.0,304.5 L1222.5,304.7 L1223.0,304.8 L1223.5,304.9 L1224.0,305.0 L1224.5,305.1 L1225.0,305.2 L1225.5,305.2 L1226.0,305.2 L1226.5,305.2 L1227.0,305.2 L1227.5,305.2 L1228.0,305.3 L1228.5,305.4 L1229.0,305.5 L1229.5,305.7 L1230.0,305.8 L1230.5,305.7 L1231.0,305.6 L1231.5,305.5 L1232.0,305.4 L1232.5,305.3 L1233.0,305.4 L1233.5,305.4 L1234.0,305.5 L1234.5,305.6 L1235.0,305.7 L1235.5,305.7 L1236.0,305.7 L1236.5,305.6 L1237.0,305.6 L1237.5,305.6 L1238.0,305.7 L1238.5,305.7 L1239.0,305.8 L1239.5,305.8 L1240.0,305.9 L1240.5,305.8 L1241.0,305.8 L1241.5,305.7 L1242.0,305.6 L1242.5,305.4 L1243.0,305.6 L1243.5,305.8 L1244.0,305.9 L1244.5,306.1 L1245.0,306.2 L1245.5,306.2 L1246.0,306.1 L1246.5,306.1 L1247.0,306.0 L1247.5,305.9 L1248.0,305.7 L1248.5,305.3 L1249.0,304.4 L1249.5,302.7 L1250.0,299.7 L1250.5,295.8 L1251.0,291.0 L1251.5,286.3 L1252.0,282.8 L1252.5,281.4 L1253.0,281.8 L1253.5,283.8 L1254.0,286.7 L1254.5,290.3 L1255.0,294.3 L1255.5,298.3 L1256.0,301.7 L1256.5,304.2 L1257.0,305.6 L1257.5,306.3 L1258.0,306.9 L1258.5,307.2 L1259.0,307.5 L1259.5,307.8 L1260.0,308.1 L1260.5,308.0 L1261.0,308.0 L1261.5,307.9 L1262.0,307.9 L1262.5,307.8 L1263.0,307.9 L1263.5,307.9 L1264.0,307.8 L1264.5,307.6 L1265.0,307.0 L1265.5,305.4 L1266.0,302.4 L1266.5,297.5 L1267.0,290.5 L1267.5,282.2 L1268.0,274.5 L1268.5,269.5 L1269.0,268.9 L1269.5,272.9 L1270.0,280.0 L1270.5,288.5 L1271.0,295.9 L1271.5,301.4 L1272.0,304.8 L1272.5,306.7 L1273.0,307.5 L1273.5,307.7 L1274.0,307.8 L1274.5,307.9 L1275.0,307.9 L1275.5,307.9 L1276.0,308.0 L1276.5,308.1 L1277.0,308.2 L1277.5,308.3 L1278.0,308.3 L1278.5,308.3 L1279.0,308.2 L1279.5,308.2 L1280.0,308.2 L1280.5,308.4 L1281.0,308.5 L1281.5,308.5 L1282.0,308.4 L1282.5,307.8 L1283.0,305.8 L1283.5,302.4 L1284.0,297.0 L1284.5,290.2 L1285.0,283.5 L1285.5,279.3 L1286.0,279.0 L1286.5,282.8 L1287.0,289.3 L1287.5,296.2 L1288.0,301.5 L1288.5,305.0 L1289.0,306.8 L1289.5,307.5 L1290.0,307.7 L1290.5,307.6 L1291.0,307.5 L1291.5,307.3 L1292.0,307.1 L1292.5,306.6 L1293.0,306.2 L1293.5,304.8 L1294.0,301.8 L1294.5,296.7 L1295.0,289.8 L1295.5,282.5 L1296.0,277.3 L1296.5,276.1 L1297.0,279.7 L1297.5,286.6 L1298.0,293.9 L1298.5,300.1 L1299.0,304.2 L1299.5,306.3 L1300.0,307.2 L1300.5,308.0 L1301.0,308.6 L1301.5,309.1 L1302.0,309.5 L1302.5,309.9 L1303.0,309.7 L1303.5,309.5 L1304.0,309.3 L1304.5,309.1 L1305.0,308.9 L1305.5,308.9 L1306.0,309.0 L1306.5,309.1 L1307.0,309.1 L1307.5,309.2 L1308.0,309.3 L1308.5,309.4 L1309.0,309.5 L1309.5,309.6 L1310.0,309.7 L1310.5,309.7 L1311.0,309.8 L1311.5,309.9 L1312.0,310.0 L1312.5,310.1 L1313.0,310.0 L1313.5,309.9 L1314.0,309.8 L1314.5,309.6 L1315.0,309.5 L1315.5,309.8 L1316.0,310.0 L1316.5,310.2 L1317.0,310.4 L1317.5,310.6 L1318.0,310.7 L1318.5,310.8 L1319.0,310.9 L1319.5,311.0 L1320.0,311.1 L1320.5,311.3 L1321.0,311.4 L1321.5,311.5 L1322.0,311.6 L1322.5,311.7 L1323.0,311.5 L1323.5,311.4 L1324.0,311.2 L1324.5,311.1 L1325.0,310.9 L1325.5,311.3 L1326.0,311.7 L1326.5,312.0 L1327.0,312.4 L1327.5,312.8 L1328.0,312.9 L1328.5,313.0 L1329.0,313.1 L1329.5,313.3 L1330.0,313.4 L1330.5,313.5 L1331.0,313.6 L1331.5,313.8 L1332.0,313.9 L1332.5,314.0 L1333.0,313.6 L1333.5,313.1 L1334.0,312.6 L1334.5,312.2 L1335.0,311.7 L1335.5,312.0 L1336.0,312.2 L1336.5,312.5 L1337.0,312.8 L1337.5,313.1 L1338.0,312.8 L1338.5,312.6 L1339.0,312.4 L1339.5,312.2 L1340.0,311.9 L1340.5,312.3 L1341.0,312.7 L1341.5,313.0 L1342.0,313.4 L1342.5,313.8 L1343.0,313.9 L1343.5,314.0 L1344.0,314.0 L1344.5,314.1 L1345.0,314.1 L1345.5,313.9 L1346.0,313.7 L1346.5,313.5 L1347.0,313.3 L1347.5,313.0 L1348.0,313.0 L1348.5,313.0 L1349.0,312.9 L1349.5,312.9 L1350.0,312.9 L1350.5,313.1 L1351.0,313.4 L1351.5,313.7 L1352.0,313.9 L1352.5,314.2 L1353.0,314.3 L1353.5,314.4 L1354.0,314.4 L1354.5,314.5 L1355.0,314.6 L1355.5,314.4 L1356.0,314.3 L1356.5,314.1 L1357.0,313.9 L1357.5,313.7 L1358.0,313.8 L1358.5,313.9 L1359.0,314.0 L1359.5,314.1 L1360.0,314.2 L1360.5,313.9 L1361.0,313.6 L1361.5,313.3 L1362.0,313.0 L1362.5,312.7 L1363.0,313.0 L1363.5,313.3 L1364.0,313.6 L1364.5,313.8 L1365.0,314.1 L1365.5,314.3 L1366.0,314.4 L1366.5,314.5 L1367.0,314.7 L1367.5,314.8 L1368.0,314.8 L1368.5,314.9 L1369.0,314.9 L1369.5,314.9 L1370.0,314.9 L1370.5,315.1 L1371.0,315.4 L1371.5,315.6 L1372.0,315.8 L1372.5,316.0 L1373.0,315.7 L1373.5,315.3 L1374.0,314.9 L1374.5,314.6 L1375.0,314.2 L1375.5,314.0 L1376.0,313.9 L1376.5,313.8 L1377.0,313.6 L1377.5,313.5 L1378.0,313.9 L1378.5,314.3 L1379.0,314.7 L1379.5,315.1 L1380.0,315.5 L1380.5,315.3 L1381.0,315.2 L1381.5,315.1 L1382.0,314.9 L1382.5,314.8 L1383.0,314.9 L1383.5,315.1 L1384.0,315.2 L1384.5,315.3 L1385.0,315.5 L1385.5,315.6 L1386.0,315.6 L1386.5,315.7 L1387.0,315.8 L1387.5,315.9 L1388.0,315.9 L1388.5,315.9 L1389.0,315.8 L1389.5,315.8 L1390.0,315.8 L1390.5,316.0 L1391.0,316.1 L1391.5,316.2 L1392.0,316.4 L1392.5,316.5 L1393.0,316.5 L1393.5,316.5 L1394.0,316.5 L1394.5,316.5 L1395.0,316.5 L1395.5,316.1 L1396.0,315.7 L1396.5,315.3 L1397.0,314.9 L1397.5,314.5 L1398.0,314.7 L1398.5,315.0 L1399.0,315.2 L1399.5,315.4 L1400.0,315.7 L1400.5,316.0 L1401.0,316.3 L1401.5,316.6 L1402.0,316.9 L1402.5,317.2 L1403.0,316.9 L1403.5,316.6 L1404.0,316.2 L1404.5,315.9 L1405.0,315.6 L1405.5,315.8 L1406.0,316.1 L1406.5,316.3 L1407.0,316.5 L1407.5,316.7 L1408.0,316.6 L1408.5,316.5 L1409.0,316.4 L1409.5,316.2 L1410.0,316.1 L1410.5,316.1 L1411.0,316.1 L1411.5,316.0 L1412.0,316.0 L1412.5,316.0 L1413.0,316.3 L1413.5,316.6 L1414.0,316.9 L1414.5,317.2 L1415.0,317.5 L1415.5,317.5 L1416.0,317.4 L1416.5,317.4 L1417.0,317.3 L1417.5,317.3 L1418.0,317.1 L1418.5,317.0 L1419.0,316.8 L1419.5,316.7 L1420.0,316.5 L1420.5,316.7 L1421.0,316.9 L1421.5,317.1 L1422.0,317.3 L1422.5,317.4 L1423.0,317.2 L1423.5,316.9 L1424.0,316.6 L1424.5,316.3 L1425.0,316.0 L1425.5,316.1 L1426.0,316.2 L1426.5,316.3 L1427.0,316.4 L1427.5,316.6 L1428.0,316.8 L1428.5,317.1 L1429.0,317.3 L1429.5,317.6 L1430.0,317.8 L1430.5,317.7 L1431.0,317.6 L1431.5,317.5 L1432.0,317.3 L1432.5,316.8 L1433.0,315.9 L1433.5,314.0 L1434.0,310.4 L1434.5,304.5 L1435.0,295.9 L1435.5,285.5 L1436.0,274.5 L1436.5,265.4 L1437.0,260.0 L1437.5,258.8 L1438.0,260.3 L1438.5,262.7 L1439.0,265.3 L1439.5,268.9 L1440.0,275.1 L1440.5,284.4 L1441.0,295.0 L1441.5,304.5 L1442.0,311.2 L1442.5,315.2 L1443.0,316.9 L1443.5,317.6 L1444.0,317.7 L1444.5,317.7 L1445.0,317.7 L1445.5,317.5 L1446.0,317.3 L1446.5,317.1 L1447.0,316.9 L1447.5,316.7 L1448.0,316.7 L1448.5,316.7 L1449.0,316.6 L1449.5,316.6 L1450.0,316.5 L1450.5,316.4 L1451.0,316.0 L1451.5,315.0 L1452.0,312.2 L1452.5,306.4 L1453.0,296.0 L1453.5,280.9 L1454.0,263.2 L1454.5,247.6 L1455.0,239.2 L1455.5,240.7 L1456.0,250.0 L1456.5,261.9 L1457.0,271.8 L1457.5,278.0 L1458.0,281.7 L1458.5,285.4 L1459.0,290.5 L1459.5,296.2 L1460.0,300.8 L1460.5,303.5 L1461.0,304.2 L1461.5,304.0 L1462.0,304.0 L1462.5,304.9 L1463.0,306.8 L1463.5,309.2 L1464.0,311.6 L1464.5,313.5 L1465.0,314.8 L1465.5,315.6 L1466.0,316.0 L1466.5,316.1 L1467.0,316.1 L1467.5,316.1 L1468.0,316.2 L1468.5,316.4 L1469.0,316.5 L1469.5,316.7 L1470.0,316.8 L1470.5,316.6 L1471.0,316.4 L1471.5,316.2 L1472.0,316.0 L1472.5,315.8 L1473.0,315.9 L1473.5,316.0 L1474.0,316.0 L1474.5,316.1 L1475.0,316.1 L1475.5,315.8 L1476.0,315.2 L1476.5,314.2 L1477.0,312.0 L1477.5,307.9 L1478.0,301.9 L1478.5,294.3 L1479.0,287.3 L1479.5,283.8 L1480.0,285.6 L1480.5,291.8 L1481.0,299.7 L1481.5,306.3 L1482.0,309.7 L1482.5,309.1 L1483.0,303.6 L1483.5,294.1 L1484.0,282.3 L1484.5,271.1 L1485.0,264.5 L1485.5,265.1 L1486.0,272.5 L1486.5,283.7 L1487.0,295.0 L1487.5,303.8 L1488.0,309.6 L1488.5,312.8 L1489.0,314.2 L1489.5,314.6 L1490.0,314.3 L1490.5,313.0 L1491.0,310.1 L1491.5,305.6 L1492.0,300.2 L1492.5,295.6 L1493.0,293.6 L1493.5,295.4 L1494.0,299.8 L1494.5,304.6 L1495.0,307.4 L1495.5,306.5 L1496.0,301.5 L1496.5,292.8 L1497.0,281.9 L1497.5,271.5 L1498.0,264.9 L1498.5,264.2 L1499.0,269.7 L1499.5,279.4 L1500.0,290.3 L1500.5,299.9 L1501.0,306.8 L1501.5,311.1 L1502.0,313.3 L1502.5,314.3 L1503.0,314.6 L1503.5,314.6 L1504.0,314.5 L1504.5,314.4 L1505.0,314.2 L1505.5,314.4 L1506.0,314.5 L1506.5,314.6 L1507.0,314.7 L1507.5,314.8 L1508.0,314.6 L1508.5,314.2 L1509.0,313.3 L1509.5,311.6 L1510.0,308.4 L1510.5,303.6 L1511.0,297.3 L1511.5,290.8 L1512.0,285.8 L1512.5,283.8 L1513.0,285.7 L1513.5,290.7 L1514.0,297.1 L1514.5,303.3 L1515.0,308.1 L1515.5,311.1 L1516.0,312.9 L1516.5,313.7 L1517.0,314.1 L1517.5,314.2 L1518.0,314.1 L1518.5,314.0 L1519.0,313.9 L1519.5,313.8 L1520.0,313.7 L1520.5,313.7 L1521.0,313.6 L1521.5,313.6 L1522.0,313.6 L1522.5,313.6 L1523.0,313.9 L1523.5,314.2 L1524.0,314.5 L1524.5,314.8 L1525.0,315.1 L1525.5,315.3 L1526.0,315.4 L1526.5,315.6 L1527.0,315.7 L1527.5,315.9 L1528.0,315.6 L1528.5,315.3 L1529.0,315.0 L1529.5,314.7 L1530.0,314.5 L1530.5,314.5 L1531.0,314.5 L1531.5,314.5 L1532.0,314.5 L1532.5,314.5 L1533.0,314.6 L1533.5,314.8 L1534.0,314.9 L1534.5,315.1 L1535.0,315.2 L1535.5,315.1 L1536.0,315.1 L1536.5,315.0 L1537.0,314.9 L1537.5,314.8 L1538.0,314.8 L1538.5,314.7 L1539.0,314.6 L1539.5,314.6 L1540.0,314.5 L1540.5,314.8 L1541.0,315.2 L1541.5,315.5 L1542.0,315.8 L1542.5,316.1 L1543.0,315.8 L1543.5,315.5 L1544.0,315.1 L1544.5,314.7 L1545.0,314.1 L1545.5,313.7 L1546.0,312.8 L1546.5,311.4 L1547.0,309.4 L1547.5,307.1 L1548.0,304.8 L1548.5,303.3 L1549.0,302.9 L1549.5,303.9 L1550.0,305.8 L1550.5,308.2 L1551.0,310.5 L1551.5,312.3 L1552.0,313.5 L1552.5,314.3 L1553.0,314.8 L1553.5,315.1 L1554.0,315.3 L1554.5,315.4 L1555.0,315.5 L1555.5,315.6 L1556.0,315.8 L1556.5,315.9 L1557.0,316.0 L1557.5,316.2 L1558.0,316.3 L1558.5,316.5 L1559.0,316.7 L1559.5,316.8 L1560.0,317.0 L1560.5,316.9 L1561.0,316.9 L1561.5,316.8 L1562.0,316.8 L1562.5,316.7 L1563.0,316.7 L1563.5,316.6 L1564.0,316.6 L1564.5,316.6 L1565.0,316.5 L1565.5,316.4 L1566.0,316.3 L1566.5,316.1 L1567.0,316.0 L1567.5,315.9 L1568.0,316.1 L1568.5,316.3 L1569.0,316.5 L1569.5,316.7 L1570.0,317.0 L1570.5,316.8 L1571.0,316.7 L1571.5,316.6 L1572.0,316.5 L1572.5,316.4 L1573.0,316.5 L1573.5,316.6 L1574.0,316.7 L1574.5,316.8 L1575.0,317.0 L1575.5,317.1 L1576.0,317.3 L1576.5,317.4 L1577.0,317.6 L1577.5,317.7 L1578.0,317.6 L1578.5,317.5 L1579.0,317.4 L1579.5,317.3 L1580.0,317.2 L1580.5,317.1 L1581.0,317.1 L1581.5,317.0 L1582.0,317.0 L1582.5,316.9 L1583.0,316.9 L1583.5,316.8 L1584.0,316.7 L1584.5,316.6 L1585.0,316.6 L1585.5,316.7 L1586.0,316.8 L1586.5,316.9 L1587.0,317.0 L1587.5,317.1 L1588.0,317.1 L1588.5,317.1 L1589.0,317.1 L1589.5,317.2 L1590.0,317.2 L1590.5,317.0 L1591.0,316.9 L1591.5,316.7 L1592.0,316.5 L1592.5,316.3 L1593.0,316.2 L1593.5,316.0 L1594.0,315.6 L1594.5,315.1 L1595.0,314.3 L1595.5,313.5 L1596.0,312.6 L1596.5,311.7 L1597.0,310.9 L1597.5,310.4 L1598.0,309.9 L1598.5,309.7 L1599.0,310.0 L1599.5,310.7 L1600.0,311.4 L1600.5,312.7 L1601.0,313.9 L1601.5,314.9 L1602.0,315.7 L1602.5,316.3 L1603.0,316.4 L1603.5,316.5 L1604.0,316.5 L1604.5,316.4 L1605.0,316.4 L1605.5,316.8 L1606.0,317.1 L1606.5,317.5 L1607.0,317.9 L1607.5,318.3 L1608.0,318.2 L1608.5,318.0 L1609.0,317.9 L1609.5,317.8 L1610.0,317.7 L1610.5,317.6 L1611.0,317.6 L1611.5,317.6 L1612.0,317.6 L1612.5,317.6 L1613.0,317.6 L1613.5,317.6 L1614.0,317.6 L1614.5,317.5 L1615.0,317.5 L1615.5,317.5 L1616.0,317.5 L1616.5,317.5 L1617.0,317.5 L1617.5,317.5 L1618.0,317.5 L1618.5,317.5 L1619.0,317.5 L1619.5,317.5 L1620.0,317.5 L1620.5,317.2 L1621.0,317.0 L1621.5,316.7 L1622.0,316.5 L1622.5,316.2 L1623.0,316.5 L1623.5,316.7 L1624.0,317.0 L1624.5,317.2 L1625.0,317.5 L1625.5,317.5 L1626.0,317.6 L1626.5,317.6 L1627.0,317.7 L1627.5,317.7 L1628.0,317.5 L1628.5,317.2 L1629.0,316.9 L1629.5,316.6 L1630.0,316.3 L1630.5,316.7 L1631.0,317.0 L1631.5,317.3 L1632.0,317.6 L1632.5,317.9 L1633.0,317.9 L1633.5,317.9 L1634.0,317.9 L1634.5,317.9 L1635.0,317.8 L1635.5,317.5 L1636.0,317.2 L1636.5,316.9 L1637.0,316.6 L1637.5,316.3 L1638.0,316.4 L1638.5,316.4 L1639.0,316.3 L1639.5,316.0 L1640.0,315.3 L1640.5,313.9 L1641.0,311.5 L1641.5,307.7 L1642.0,302.1 L1642.5,294.3 L1643.0,283.9 L1643.5,271.1 L1644.0,256.3 L1644.5,240.4 L1645.0,224.9 L1645.5,211.5 L1646.0,201.7 L1646.5,196.8 L1647.0,197.5 L1647.5,203.6 L1648.0,214.1 L1648.5,227.9 L1649.0,243.3 L1649.5,258.5 L1650.0,272.0 L1650.5,282.9 L1651.0,289.5 L1651.5,291.3 L1652.0,289.0 L1652.5,285.2 L1653.0,282.9 L1653.5,284.8 L1654.0,290.9 L1654.5,299.0 L1655.0,306.6 L1655.5,311.9 L1656.0,315.0 L1656.5,316.4 L1657.0,316.9 L1657.5,317.2 L1658.0,317.1 L1658.5,317.0 L1659.0,316.9 L1659.5,316.7 L1660.0,316.5 L1660.5,316.2 L1661.0,315.3 L1661.5,312.7 L1662.0,306.5 L1662.5,294.0 L1663.0,273.1 L1663.5,243.7 L1664.0,211.3 L1664.5,185.2 L1665.0,175.0 L1665.5,184.1 L1666.0,208.0 L1666.5,235.9 L1667.0,256.6 L1667.5,264.6 L1668.0,262.1 L1668.5,255.7 L1669.0,253.5 L1669.5,259.9 L1670.0,273.5 L1670.5,288.6 L1671.0,301.2 L1671.5,309.2 L1672.0,312.9 L1672.5,313.5 L1673.0,311.5 L1673.5,307.2 L1674.0,302.1 L1674.5,298.5 L1675.0,298.5 L1675.5,301.7 L1676.0,304.7 L1676.5,304.4 L1677.0,299.2 L1677.5,290.4 L1678.0,280.7 L1678.5,274.7 L1679.0,275.2 L1679.5,281.8 L1680.0,291.6 L1680.5,300.7 L1681.0,306.7 L1681.5,308.6 L1682.0,306.3 L1682.5,299.4 L1683.0,287.5 L1683.5,270.4 L1684.0,249.6 L1684.5,228.8 L1685.0,213.4 L1685.5,207.5 L1686.0,213.2 L1686.5,228.8 L1687.0,249.7 L1687.5,270.6 L1688.0,288.1 L1688.5,300.0 L1689.0,306.0 L1689.5,306.4 L1690.0,301.1 L1690.5,290.2 L1691.0,276.7 L1691.5,265.0 L1692.0,260.2 L1692.5,264.4 L1693.0,275.4 L1693.5,287.9 L1694.0,296.6 L1694.5,298.2 L1695.0,291.3 L1695.5,276.0 L1696.0,253.9 L1696.5,229.4 L1697.0,208.8 L1697.5,199.0 L1698.0,203.7 L1698.5,221.0 L1699.0,245.3 L1699.5,269.8 L1700.0,289.6 L1700.5,302.4 L1701.0,309.7 L1701.5,313.1 L1702.0,314.3 L1702.5,314.4 L1703.0,313.8 L1703.5,312.0 L1704.0,308.2 L1704.5,301.6 L1705.0,292.0 L1705.5,280.9 L1706.0,271.2 L1706.5,266.4 L1707.0,268.2 L1707.5,275.7 L1708.0,285.5 L1708.5,293.2 L1709.0,295.7 L1709.5,291.5 L1710.0,280.3 L1710.5,263.9 L1711.0,245.5 L1711.5,229.6 L1712.0,220.8 L1712.5,222.0 L1713.0,232.7 L1713.5,249.9 L1714.0,269.0 L1714.5,285.9 L1715.0,298.6 L1715.5,306.9 L1716.0,311.6 L1716.5,314.0 L1717.0,315.1 L1717.5,315.5 L1718.0,315.7 L1718.5,315.7 L1719.0,315.7 L1719.5,315.6 L1720.0,315.4 L1720.5,314.7 L1721.0,313.2 L1721.5,310.2 L1722.0,305.3 L1722.5,298.4 L1723.0,290.8 L1723.5,284.6 L1724.0,282.1 L1724.5,284.0 L1725.0,289.2 L1725.5,294.8 L1726.0,297.8 L1726.5,295.9 L1727.0,288.3 L1727.5,276.3 L1728.0,262.8 L1728.5,252.0 L1729.0,247.8 L1729.5,251.7 L1730.0,262.2 L1730.5,276.3 L1731.0,289.9 L1731.5,300.4 L1732.0,307.3 L1732.5,311.3 L1733.0,313.2 L1733.5,314.2 L1734.0,314.6 L1734.5,314.9 L1735.0,315.1 L1735.5,315.0 L1736.0,314.9 L1736.5,314.8 L1737.0,314.7 L1737.5,314.6 L1738.0,314.7 L1738.5,314.8 L1739.0,314.9 L1739.5,314.9 L1740.0,314.8 L1740.5,314.0 L1741.0,312.5 L1741.5,310.0 L1742.0,306.6 L1742.5,303.1 L1743.0,301.1 L1743.5,301.0 L1744.0,302.7 L1744.5,305.0 L1745.0,305.9 L1745.5,303.7 L1746.0,298.4 L1746.5,291.2 L1747.0,284.6 L1747.5,281.3 L1748.0,282.7 L1748.5,288.4 L1749.0,296.0 L1749.5,303.2 L1750.0,308.7 L1750.5,312.1 L1751.0,313.8 L1751.5,314.6 L1752.0,314.9 L1752.5,315.0 L1753.0,314.7 L1753.5,314.3 L1754.0,313.9 L1754.5,313.6 L1755.0,313.2 L1755.5,313.4 L1756.0,313.7 L1756.5,313.9 L1757.0,314.1 L1757.5,314.4 L1758.0,314.3 L1758.5,314.3 L1759.0,314.2 L1759.5,314.2 L1760.0,314.1 L1760.5,314.4 L1761.0,314.6 L1761.5,314.5 L1762.0,313.7 L1762.5,311.6 L1763.0,307.1 L1763.5,301.0 L1764.0,294.2 L1764.5,288.6 L1765.0,286.2 L1765.5,287.7 L1766.0,291.9 L1766.5,296.4 L1767.0,298.9 L1767.5,298.1 L1768.0,294.3 L1768.5,288.8 L1769.0,283.6 L1769.5,280.7 L1770.0,281.3 L1770.5,285.0 L1771.0,291.0 L1771.5,297.6 L1772.0,303.5 L1772.5,307.9 L1773.0,311.2 L1773.5,313.2 L1774.0,314.4 L1774.5,315.1 L1775.0,315.6 L1775.5,315.4 L1776.0,315.1 L1776.5,314.8 L1777.0,314.5 L1777.5,314.2 L1778.0,314.3 L1778.5,314.4 L1779.0,314.4 L1779.5,314.5 L1780.0,314.6 L1780.5,314.5 L1781.0,314.4 L1781.5,314.3 L1782.0,314.1 L1782.5,314.0 L1783.0,314.3 L1783.5,314.5 L1784.0,314.7 L1784.5,315.0 L1785.0,315.2 L1785.5,314.6 L1786.0,313.9 L1786.5,312.7 L1787.0,310.6 L1787.5,306.8 L1788.0,301.4 L1788.5,292.8 L1789.0,281.0 L1789.5,266.8 L1790.0,252.8 L1790.5,241.3 L1791.0,235.9 L1791.5,238.0 L1792.0,246.9 L1792.5,260.2 L1793.0,275.2 L1793.5,288.7 L1794.0,299.1 L1794.5,306.3 L1795.0,310.6 L1795.5,312.7 L1796.0,313.6 L1796.5,313.9 L1797.0,313.9 L1797.5,313.8 L1798.0,314.0 L1798.5,314.2 L1799.0,314.4 L1799.5,314.6 L1800.0,314.7 L1800.5,314.7 L1801.0,314.7 L1801.5,314.7 L1802.0,314.7 L1802.5,314.7 L1803.0,314.8 L1803.5,314.8 L1804.0,314.8 L1804.5,314.8 L1805.0,314.6 L1805.5,313.9 L1806.0,312.5 L1806.5,310.2 L1807.0,307.1 L1807.5,304.1 L1808.0,302.3 L1808.5,302.6 L1809.0,304.8 L1809.5,307.9 L1810.0,310.8 L1810.5,312.6 L1811.0,313.2 L1811.5,312.4 L1812.0,309.6 L1812.5,304.4 L1813.0,296.1 L1813.5,284.9 L1814.0,272.5 L1814.5,261.2 L1815.0,254.0 L1815.5,253.3 L1816.0,258.9 L1816.5,269.3 L1817.0,281.5 L1817.5,292.7 L1818.0,301.5 L1818.5,307.3 L1819.0,310.7 L1819.5,312.2 L1820.0,312.6 L1820.5,312.2 L1821.0,310.7 L1821.5,308.0 L1822.0,304.4 L1822.5,301.1 L1823.0,299.2 L1823.5,299.8 L1824.0,302.6 L1824.5,306.2 L1825.0,309.0 L1825.5,310.1 L1826.0,308.0 L1826.5,301.0 L1827.0,287.0 L1827.5,264.2 L1828.0,233.0 L1828.5,198.3 L1829.0,167.7 L1829.5,149.2 L1830.0,146.3 L1830.5,156.3 L1831.0,172.1 L1831.5,186.6 L1832.0,196.6 L1832.5,203.1 L1833.0,209.2 L1833.5,216.2 L1834.0,224.0 L1834.5,231.3 L1835.0,237.1 L1835.5,241.6 L1836.0,245.9 L1836.5,251.4 L1837.0,258.6 L1837.5,267.5 L1838.0,276.9 L1838.5,286.0 L1839.0,294.0 L1839.5,300.1 L1840.0,303.7 L1840.5,304.5 L1841.0,301.6 L1841.5,294.3 L1842.0,281.9 L1842.5,264.9 L1843.0,245.1 L1843.5,225.9 L1844.0,211.5 L1844.5,205.0 L1845.0,207.7 L1845.5,218.1 L1846.0,232.4 L1846.5,246.6 L1847.0,257.7 L1847.5,264.9 L1848.0,268.4 L1848.5,270.2 L1849.0,271.8 L1849.5,273.8 L1850.0,276.3 L1850.5,279.1 L1851.0,281.4 L1851.5,282.9 L1852.0,283.8 L1852.5,284.3 L1853.0,284.9 L1853.5,285.7 L1854.0,286.9 L1854.5,288.6 L1855.0,290.4 L1855.5,291.9 L1856.0,293.2 L1856.5,294.1 L1857.0,294.5 L1857.5,294.4 L1858.0,294.1 L1858.5,293.7 L1859.0,293.2 L1859.5,293.0 L1860.0,293.1 L1860.5,293.5 L1861.0,294.4 L1861.5,295.7 L1862.0,297.3 L1862.5,299.2 L1863.0,301.3 L1863.5,303.4 L1864.0,305.3 L1864.5,307.1 L1865.0,308.7 L1865.5,310.1 L1866.0,311.3 L1866.5,312.2 L1867.0,312.9 L1867.5,313.5 L1868.0,313.8 L1868.5,314.0 L1869.0,314.2 L1869.5,314.2 L1870.0,314.3 L1870.5,314.4 L1871.0,314.4 L1871.5,314.5 L1872.0,314.6 L1872.5,314.6 L1873.0,314.4 L1873.5,314.3 L1874.0,314.1 L1874.5,314.0 L1875.0,313.8 L1875.5,313.9 L1876.0,314.0 L1876.5,314.1 L1877.0,314.2 L1877.5,314.3 L1878.0,314.3 L1878.5,314.3 L1879.0,314.3 L1879.5,314.4 L1880.0,314.4 L1880.5,314.3 L1881.0,314.1 L1881.5,313.9 L1882.0,313.5 L1882.5,312.6 L1883.0,311.1 L1883.5,308.1 L1884.0,302.8 L1884.5,294.3 L1885.0,281.6 L1885.5,264.5 L1886.0,243.4 L1886.5,220.1 L1887.0,197.6 L1887.5,179.4 L1888.0,168.5 L1888.5,167.4 L1889.0,176.1 L1889.5,192.9 L1890.0,214.4 L1890.5,236.8 L1891.0,255.9 L1891.5,268.6 L1892.0,273.6 L1892.5,272.1 L1893.0,268.0 L1893.5,266.2 L1894.0,270.2 L1894.5,279.3 L1895.0,290.4 L1895.5,300.2 L1896.0,306.5 L1896.5,309.3 L1897.0,309.4 L1897.5,308.0 L1898.0,306.1 L1898.5,305.1 L1899.0,305.5 L1899.5,307.1 L1900.0,309.2 L1900.5,311.0 L1901.0,312.2 L1901.5,312.9 L1902.0,312.9 L1902.5,312.4 L1903.0,310.6 L1903.5,306.3 L1904.0,297.4 L1904.5,281.5 L1905.0,257.0 L1905.5,225.7 L1906.0,193.0 L1906.5,167.8 L1907.0,158.3 L1907.5,167.7 L1908.0,192.3 L1908.5,222.9 L1909.0,249.2 L1909.5,264.5 L1910.0,266.8 L1910.5,259.3 L1911.0,249.2 L1911.5,243.8 L1912.0,247.2 L1912.5,258.7 L1913.0,274.5 L1913.5,289.5 L1914.0,300.6 L1914.5,307.1 L1915.0,309.7 L1915.5,309.1 L1916.0,305.6 L1916.5,299.0 L1917.0,290.1 L1917.5,280.5 L1918.0,273.1 L1918.5,270.0 L1919.0,271.5 L1919.5,274.8 L1920.0,276.3 L1920.5,274.1 L1921.0,268.7 L1921.5,263.8 L1922.0,263.3 L1922.5,268.8 L1923.0,278.7 L1923.5,289.9 L1924.0,299.3 L1924.5,305.3 L1925.0,307.6 L1925.5,306.0 L1926.0,299.6 L1926.5,287.0 L1927.0,267.4 L1927.5,242.1 L1928.0,215.7 L1928.5,195.4 L1929.0,187.8 L1929.5,195.7 L1930.0,216.2 L1930.5,242.6 L1931.0,267.9 L1931.5,287.5 L1932.0,300.1 L1932.5,306.5 L1933.0,308.1 L1933.5,305.9 L1934.0,299.9 L1934.5,290.1 L1935.0,277.4 L1935.5,264.0 L1936.0,253.6 L1936.5,249.6 L1937.0,253.4 L1937.5,263.5 L1938.0,276.7 L1938.5,289.0 L1939.0,297.5 L1939.5,300.2 L1940.0,295.9 L1940.5,282.9 L1941.0,261.2 L1941.5,232.6 L1942.0,202.6 L1942.5,179.4 L1943.0,170.9 L1943.5,179.9 L1944.0,203.2 L1944.5,233.3 L1945.0,262.2 L1945.5,284.3 L1946.0,298.6 L1946.5,306.4 L1947.0,310.0 L1947.5,311.4 L1948.0,311.9 L1948.5,311.8 L1949.0,311.1 L1949.5,309.3 L1950.0,305.4 L1950.5,298.7 L1951.0,288.7 L1951.5,276.3 L1952.0,263.9 L1952.5,255.2 L1953.0,252.9 L1953.5,257.9 L1954.0,268.2 L1954.5,280.1 L1955.0,289.5 L1955.5,292.6 L1956.0,287.1 L1956.5,271.5 L1957.0,246.3 L1957.5,215.3 L1958.0,186.1 L1958.5,167.3 L1959.0,165.0 L1959.5,179.4 L1960.0,203.8 L1960.5,228.2 L1961.0,244.0 L1961.5,248.1 L1962.0,243.7 L1962.5,237.8 L1963.0,237.3 L1963.5,245.4 L1964.0,260.2 L1964.5,277.0 L1965.0,291.4 L1965.5,301.2 L1966.0,306.7 L1966.5,309.2 L1967.0,310.1 L1967.5,310.2 L1968.0,310.6 L1968.5,310.9 L1969.0,310.8 L1969.5,310.1 L1970.0,307.9 L1970.5,302.4 L1971.0,292.9 L1971.5,279.0 L1972.0,262.8 L1972.5,248.6 L1973.0,241.6 L1973.5,244.1 L1974.0,254.4 L1974.5,266.8 L1975.0,275.0 L1975.5,274.3 L1976.0,263.9 L1976.5,246.8 L1977.0,228.9 L1977.5,217.0 L1978.0,216.0 L1978.5,226.4 L1979.0,244.9 L1979.5,265.6 L1980.0,283.8 L1980.5,296.9 L1981.0,304.9 L1981.5,309.1 L1982.0,310.9 L1982.5,311.7 L1983.0,312.1 L1983.5,312.3 L1984.0,312.5 L1984.5,312.6 L1985.0,312.6 L1985.5,312.1 L1986.0,310.7 L1986.5,307.3 L1987.0,300.0 L1987.5,286.2 L1988.0,263.6 L1988.5,232.4 L1989.0,196.6 L1989.5,164.8 L1990.0,146.2 L1990.5,146.0 L1991.0,162.0 L1991.5,184.7 L1992.0,203.1 L1992.5,211.4 L1993.0,212.8 L1993.5,215.3 L1994.0,226.0 L1994.5,245.3 L1995.0,267.4 L1995.5,285.3 L1996.0,295.1 L1996.5,296.1 L1997.0,289.3 L1997.5,276.7 L1998.0,261.8 L1998.5,248.4 L1999.0,240.8 L1999.5,241.8 L2000.0,251.1 L2000.5,265.1 L2001.0,279.9 L2001.5,292.3 L2002.0,300.8 L2002.5,305.6 L2003.0,308.4 L2003.5,309.4 L2004.0,309.1 L2004.5,307.2 L2005.0,303.3 L2005.5,296.5 L2006.0,287.1 L2006.5,276.2 L2007.0,265.8 L2007.5,258.6 L2008.0,256.8 L2008.5,260.8 L2009.0,269.5 L2009.5,280.3 L2010.0,290.6 L2010.5,299.2 L2011.0,305.0 L2011.5,308.1 L2012.0,308.6 L2012.5,306.0 L2013.0,298.6 L2013.5,284.8 L2014.0,263.5 L2014.5,236.1 L2015.0,207.6 L2015.5,185.5 L2016.0,177.1 L2016.5,185.4 L2017.0,207.2 L2017.5,235.6 L2018.0,262.7 L2018.5,283.6 L2019.0,296.6 L2019.5,302.6 L2020.0,302.8 L2020.5,298.6 L2021.0,289.8 L2021.5,277.1 L2022.0,262.0 L2022.5,247.7 L2023.0,237.4 L2023.5,234.7 L2024.0,240.3 L2024.5,252.5 L2025.0,267.7 L2025.5,282.2 L2026.0,293.2 L2026.5,299.1 L2027.0,299.2 L2027.5,292.7 L2028.0,278.4 L2028.5,256.3 L2029.0,228.4 L2029.5,199.3 L2030.0,175.9 L2030.5,165.3 L2031.0,170.3 L2031.5,189.6 L2032.0,217.4 L2032.5,246.7 L2033.0,271.5 L2033.5,289.4 L2034.0,300.7 L2034.5,306.8 L2035.0,309.6 L2035.5,310.8 L2036.0,311.0 L2036.5,310.7 L2037.0,309.8 L2037.5,307.8 L2038.0,304.3 L2038.5,298.3 L2039.0,289.5 L2039.5,278.6 L2040.0,267.2 L2040.5,257.9 L2041.0,253.3 L2041.5,254.9 L2042.0,261.8 L2042.5,271.6 L2043.0,281.3 L2043.5,287.2 L2044.0,286.7 L2044.5,278.4 L2045.0,262.7 L2045.5,241.3 L2046.0,219.4 L2046.5,202.7 L2047.0,196.4 L2047.5,202.3 L2048.0,219.2 L2048.5,241.6 L2049.0,264.2 L2049.5,282.9 L2050.0,296.2 L2050.5,304.0 L2051.0,308.0 L2051.5,309.8 L2052.0,310.5 L2052.5,310.6 L2053.0,310.7 L2053.5,310.7 L2054.0,310.6 L2054.5,310.6 L2055.0,310.5 L2055.5,310.5 L2056.0,310.3 L2056.5,309.5 L2057.0,307.8 L2057.5,304.5 L2058.0,299.2 L2058.5,292.4 L2059.0,285.3 L2059.5,279.9 L2060.0,277.7 L2060.5,279.5 L2061.0,284.4 L2061.5,290.5 L2062.0,295.3 L2062.5,296.8 L2063.0,294.3 L2063.5,287.1 L2064.0,276.3 L2064.5,264.1 L2065.0,253.4 L2065.5,247.5 L2066.0,248.3 L2066.5,255.6 L2067.0,267.3 L2067.5,280.2 L2068.0,291.4 L2068.5,299.8 L2069.0,305.2 L2069.5,308.2 L2070.0,309.6 L2070.5,310.1 L2071.0,310.2 L2071.5,310.2 L2072.0,310.0 L2072.5,309.9 L2073.0,310.0 L2073.5,310.1 L2074.0,310.0 L2074.5,309.7 L2075.0,308.9 L2075.5,307.4 L2076.0,305.6 L2076.5,304.1 L2077.0,303.4 L2077.5,303.9 L2078.0,305.3 L2078.5,306.8 L2079.0,307.8 L2079.5,307.6 L2080.0,306.2 L2080.5,303.7 L2081.0,301.0 L2081.5,299.1 L2082.0,298.8 L2082.5,300.3 L2083.0,302.2 L2083.5,303.2 L2084.0,302.2 L2084.5,298.5 L2085.0,292.8 L2085.5,286.4 L2086.0,281.3 L2086.5,279.4 L2087.0,281.3 L2087.5,286.4 L2088.0,292.7 L2088.5,298.9 L2089.0,303.6 L2089.5,306.5 L2090.0,308.1 L2090.5,309.2 L2091.0,309.8 L2091.5,310.2 L2092.0,310.5 L2092.5,310.8 L2093.0,310.7 L2093.5,310.7 L2094.0,310.6 L2094.5,310.5 L2095.0,310.4 L2095.5,310.4 L2096.0,310.3 L2096.5,310.3 L2097.0,310.3 L2097.5,310.2 L2098.0,310.3 L2098.5,310.4 L2099.0,310.5 L2099.5,310.5 L2100.0,310.6 L2100.5,310.8 L2101.0,311.1 L2101.5,311.3 L2102.0,311.4 L2102.5,311.3 L2103.0,310.1 L2103.5,308.3 L2104.0,305.7 L2104.5,302.7 L2105.0,299.8 L2105.5,298.1 L2106.0,297.7 L2106.5,298.2 L2107.0,298.7 L2107.5,298.3 L2108.0,297.3 L2108.5,296.0 L2109.0,295.5 L2109.5,296.8 L2110.0,299.6 L2110.5,302.7 L2111.0,305.6 L2111.5,307.7 L2112.0,308.9 L2112.5,309.4 L2113.0,310.0 L2113.5,310.4 L2114.0,310.7 L2114.5,311.0 L2115.0,311.3 L2115.5,311.0 L2116.0,310.7 L2116.5,310.4 L2117.0,310.0 L2117.5,309.7 L2118.0,309.8 L2118.5,309.9 L2119.0,309.9 L2119.5,310.0 L2120.0,310.1 L2120.5,310.2 L2121.0,310.4 L2121.5,310.5 L2122.0,310.5 L2122.5,310.3 L2123.0,309.6 L2123.5,308.7 L2124.0,307.7 L2124.5,306.9 L2125.0,306.6 L2125.5,306.9 L2126.0,307.6 L2126.5,308.5 L2127.0,309.3 L2127.5,309.8 L2128.0,309.9 L2128.5,309.5 L2129.0,308.6 L2129.5,307.3 L2130.0,305.9 L2130.5,304.8 L2131.0,304.5 L2131.5,305.0 L2132.0,306.1 L2132.5,307.4 L2133.0,308.6 L2133.5,309.3 L2134.0,309.8 L2134.5,309.9 L2135.0,310.0 L2135.5,310.0 L2136.0,310.1 L2136.5,310.1 L2137.0,310.1 L2137.5,310.2 L2138.0,310.4 L2138.5,310.6 L2139.0,310.8 L2139.5,311.0 L2140.0,311.2 L2140.5,311.1 L2141.0,311.0 L2141.5,310.9 L2142.0,310.8 L2142.5,310.7 L2143.0,310.5 L2143.5,310.3 L2144.0,310.0 L2144.5,309.5 L2145.0,308.9 L2145.5,308.3 L2146.0,307.4 L2146.5,306.5 L2147.0,305.5 L2147.5,304.6 L2148.0,304.0 L2148.5,303.8 L2149.0,304.0 L2149.5,304.5 L2150.0,305.4 L2150.5,306.4 L2151.0,307.4 L2151.5,308.3 L2152.0,308.9 L2152.5,309.2 L2153.0,308.9 L2153.5,308.4 L2154.0,307.6 L2154.5,306.8 L2155.0,305.9 L2155.5,305.3 L2156.0,305.0 L2156.5,305.0 L2157.0,305.2 L2157.5,305.8 L2158.0,306.6 L2158.5,307.4 L2159.0,308.2 L2159.5,308.9 L2160.0,309.5 L2160.5,310.2 L2161.0,310.7 L2161.5,311.2 L2162.0,311.6 L2162.5,312.0 L2163.0,311.7 L2163.5,311.3 L2164.0,311.0 L2164.5,310.7 L2165.0,310.3 L2165.5,310.5 L2166.0,310.6 L2166.5,310.8 L2167.0,310.9 L2167.5,311.0 L2168.0,310.7 L2168.5,310.3 L2169.0,309.9 L2169.5,309.5 L2170.0,309.1 L2170.5,309.4 L2171.0,309.7 L2171.5,310.1 L2172.0,310.3 L2172.5,310.5 L2173.0,309.6 L2173.5,307.5 L2174.0,302.9 L2174.5,293.5 L2175.0,277.1 L2175.5,253.8 L2176.0,226.6 L2176.5,202.9 L2177.0,190.8 L2177.5,194.2 L2178.0,209.6 L2178.5,226.8 L2179.0,234.9 L2179.5,227.4 L2180.0,206.6 L2180.5,182.1 L2181.0,166.6 L2181.5,168.0 L2182.0,185.5 L2182.5,209.7 L2183.0,228.2 L2183.5,232.5 L2184.0,220.7 L2184.5,198.1 L2185.0,173.9 L2185.5,157.9 L2186.0,156.7 L2186.5,171.4 L2187.0,197.8 L2187.5,228.8 L2188.0,257.1 L2188.5,278.5 L2189.0,291.4 L2189.5,296.4 L2190.0,294.4 L2190.5,286.9 L2191.0,276.1 L2191.5,264.8 L2192.0,256.7 L2192.5,254.5 L2193.0,259.6 L2193.5,269.6 L2194.0,281.4 L2194.5,291.6 L2195.0,298.6 L2195.5,301.6 L2196.0,302.4 L2196.5,302.8 L2197.0,303.6 L2197.5,305.0 L2198.0,306.9 L2198.5,308.5 L2199.0,309.6 L2199.5,310.1 L2200.0,310.4 L2200.5,310.6 L2201.0,310.8 L2201.5,311.0 L2202.0,311.2 L2202.5,311.4 L2203.0,311.2 L2203.5,311.1 L2204.0,310.9 L2204.5,310.8 L2205.0,310.5 L2205.5,310.1 L2206.0,307.5 L2206.5,296.0 L2207.0,257.4 L2207.5,162.6 L2208.0,60.4 L2208.5,60.3 L2209.0,60.3 L2209.5,60.3 L2210.0,60.2 L2210.5,103.0 L2211.0,223.5 L2211.5,273.7 L2212.0,278.2 L2212.5,259.0 L2213.0,228.9 L2213.5,200.5 L2214.0,185.9 L2214.5,191.8 L2215.0,215.0 L2215.5,245.7 L2216.0,272.6 L2216.5,289.8 L2217.0,296.8 L2217.5,295.6 L2218.0,288.6 L2218.5,278.0 L2219.0,266.6 L2219.5,257.7 L2220.0,254.4 L2220.5,257.5 L2221.0,266.3 L2221.5,277.7 L2222.0,288.6 L2222.5,297.0 L2223.0,302.8 L2223.5,305.9 L2224.0,307.1 L2224.5,306.7 L2225.0,304.5 L2225.5,299.6 L2226.0,290.9 L2226.5,277.6 L2227.0,260.3 L2227.5,241.6 L2228.0,225.2 L2228.5,216.1 L2229.0,216.9 L2229.5,227.3 L2230.0,244.2 L2230.5,263.2 L2231.0,280.2 L2231.5,292.9 L2232.0,301.2 L2232.5,305.8 L2233.0,308.2 L2233.5,309.2 L2234.0,309.4 L2234.5,307.8 L2235.0,299.2 L2235.5,268.0 L2236.0,186.5 L2236.5,59.7 L2237.0,59.4 L2237.5,59.2 L2238.0,59.4 L2238.5,59.6 L2239.0,70.3 L2239.5,208.2 L2240.0,277.1 L2240.5,301.4 L2241.0,307.3 L2241.5,307.2 L2242.0,304.4 L2242.5,298.3 L2243.0,287.4 L2243.5,270.6 L2244.0,249.1 L2244.5,226.6 L2245.0,209.2 L2245.5,202.8 L2246.0,209.4 L2246.5,226.8 L2247.0,249.3 L2247.5,270.9 L2248.0,287.7 L2248.5,298.5 L2249.0,304.5 L2249.5,307.1 L2250.0,306.6 L2250.5,298.3 L2251.0,267.4 L2251.5,186.2 L2252.0,59.8 L2252.5,59.7 L2253.0,59.7 L2253.5,59.7 L2254.0,59.6 L2254.5,69.9 L2255.0,207.6 L2255.5,276.5 L2256.0,301.3 L2256.5,308.0 L2257.0,309.4 L2257.5,309.8 L2258.0,309.9 L2258.5,309.9 L2259.0,309.8 L2259.5,309.5 L2260.0,308.7 L2260.5,306.6 L2261.0,302.4 L2261.5,294.9 L2262.0,283.0 L2262.5,266.6 L2263.0,247.5 L2263.5,229.4 L2264.0,216.9 L2264.5,213.6 L2265.0,220.7 L2265.5,235.6 L2266.0,254.2 L2266.5,271.4 L2267.0,283.5 L2267.5,287.6 L2268.0,282.0 L2268.5,264.9 L2269.0,236.3 L2269.5,199.6 L2270.0,162.9 L2270.5,136.6 L2271.0,129.9 L2271.5,145.1 L2272.0,176.9 L2272.5,215.1 L2273.0,250.3 L2273.5,276.7 L2274.0,293.3 L2274.5,302.4 L2275.0,306.6 L2275.5,308.4 L2276.0,309.0 L2276.5,309.3 L2277.0,309.4 L2277.5,309.5 L2278.0,309.5 L2278.5,309.5 L2279.0,309.5 L2279.5,309.5 L2280.0,309.5 L2280.5,309.3 L2281.0,308.8 L2281.5,307.9 L2282.0,305.9 L2282.5,301.9 L2283.0,294.8 L2283.5,283.9 L2284.0,269.8 L2284.5,255.2 L2285.0,243.8 L2285.5,239.6 L2286.0,243.8 L2286.5,254.8 L2287.0,268.4 L2287.5,280.0 L2288.0,285.8 L2288.5,283.6 L2289.0,272.8 L2289.5,254.5 L2290.0,231.7 L2290.5,209.7 L2291.0,194.4 L2291.5,190.6 L2292.0,199.6 L2292.5,218.5 L2293.0,242.1 L2293.5,264.8 L2294.0,283.0 L2294.5,295.6 L2295.0,303.0 L2295.5,306.5 L2296.0,308.0 L2296.5,308.4 L2297.0,308.3 L2297.5,308.1 L2298.0,308.5 L2298.5,308.9 L2299.0,309.3 L2299.5,309.7 L2300.0,310.0 L2300.5,309.5 L2301.0,308.9 L2301.5,308.3 L2302.0,307.7 L2302.5,307.1 L2303.0,307.1 L2303.5,307.2 L2304.0,307.1 L2304.5,307.0 L2305.0,306.5 L2305.5,305.2 L2306.0,302.7 L2306.5,298.3 L2307.0,292.1 L2307.5,285.3 L2308.0,279.8 L2308.5,277.7 L2309.0,279.6 L2309.5,284.5 L2310.0,289.9 L2310.5,293.1 L2311.0,292.2 L2311.5,286.4 L2312.0,276.5 L2312.5,264.4 L2313.0,253.5 L2313.5,246.7 L2314.0,246.4 L2314.5,252.7 L2315.0,263.8 L2315.5,276.1 L2316.0,287.4 L2316.5,296.1 L2317.0,301.7 L2317.5,304.8 L2318.0,306.8 L2318.5,307.9 L2319.0,308.4 L2319.5,308.8 L2320.0,309.1 L2320.5,308.9 L2321.0,308.7 L2321.5,308.4 L2322.0,308.2 L2322.5,308.0 L2323.0,308.0 L2323.5,307.9 L2324.0,307.8 L2324.5,307.5 L2325.0,307.0 L2325.5,306.2 L2326.0,305.4 L2326.5,304.8 L2327.0,304.5 L2327.5,304.5 L2328.0,305.4 L2328.5,306.4 L2329.0,307.5 L2329.5,308.5 L2330.0,309.2 L2330.5,308.8 L2331.0,308.0 L2331.5,306.4 L2332.0,303.9 L2332.5,300.4 L2333.0,296.9 L2333.5,294.1 L2334.0,292.9 L2334.5,293.9 L2335.0,296.6 L2335.5,300.4 L2336.0,303.9 L2336.5,306.5 L2337.0,308.2 L2337.5,309.2 L2338.0,309.2 L2338.5,309.0 L2339.0,308.7 L2339.5,308.4 L2340.0,308.2 L2340.5,308.2 L2341.0,308.2 L2341.5,308.2 L2342.0,308.3 L2342.5,308.3 L2343.0,308.2 L2343.5,306.0 L2344.0,304.2 L2344.5,302.4 L2345.0,300.6 L2345.5,298.8 L2346.0,293.0 L2346.5,287.3 L2347.0,281.5 L2347.5,268.9 L2348.0,256.3 L2348.5,243.8 L2349.0,231.5 L2349.5,219.3 L2350.0,207.1 L2350.5,195.2 L2351.0,188.6 L2351.5,182.0 L2352.0,175.5 L2352.5,168.9 L2353.0,166.0 L2353.5,163.2 L2354.0,161.2 L2354.5,160.5 L2355.0,160.5 L2355.5,161.4 L2356.0,163.6 L2356.5,167.9 L2357.0,175.5 L2357.5,187.8 L2358.0,200.2 L2358.5,214.2 L2359.0,228.2 L2359.5,242.1 L2360.0,252.9 L2360.5,263.1 L2361.0,273.2 L2361.5,280.0 L2362.0,282.4 L2362.5,276.9 L2363.0,265.5 L2363.5,251.5 L2364.0,233.1 L2364.5,214.6 L2365.0,205.4 L2365.5,196.7 L2366.0,188.0 L2366.5,184.3 L2367.0,180.6 L2367.5,177.0 L2368.0,172.8 L2368.5,171.0 L2369.0,169.3 L2369.5,167.6 L2370.0,168.0 L2370.5,169.9 L2371.0,171.8 L2371.5,174.4 L2372.0,177.1 L2372.5,179.8 L2373.0,184.0 L2373.5,190.0 L2374.0,196.1 L2374.5,198.9 L2375.0,201.7 L2375.5,204.3 L2376.0,208.4 L2376.5,218.4 L2377.0,228.4 L2377.5,232.9 L2378.0,237.2 L2378.5,241.6 L2379.0,246.0 L2379.5,253.9 L2380.0,261.8 L2380.5,264.7 L2381.0,267.6 L2381.5,270.6 L2382.0,273.5 L2382.5,276.7 L2383.0,279.9 L2383.5,283.2 L2384.0,286.5 L2384.5,287.5 L2385.0,288.6 L2385.5,289.6 L2386.0,291.5 L2386.5,294.7 L2387.0,297.9 L2387.5,297.7 L2388.0,297.2 L2388.5,296.6 L2389.0,296.1 L2389.5,295.5 L2390.0,295.4 L2390.5,296.9 L2391.0,298.4 L2391.5,299.9 L2392.0,301.4 L2392.5,301.0 L2393.0,301.4 L2393.5,301.9 L2394.0,302.3 L2394.5,302.8 L2395.0,304.1 L2395.5,304.6 L2396.0,305.0 L2396.5,305.4 L2397.0,305.8 L2397.5,306.2 L2398.0,306.3 L2398.5,306.3 L2399.0,306.3 L2399.5,306.2 L2400.0,306.2 L2400.5,306.3 L2401.0,306.4 L2401.5,306.6 L2402.0,306.7 L2402.5,306.8 L2403.0,306.7 L2403.5,306.6 L2404.0,306.4 L2404.5,306.3 L2405.0,306.2 L2405.5,306.4 L2406.0,306.6 L2406.5,306.8 L2407.0,307.0 L2407.5,307.2 L2408.0,306.9 L2408.5,306.6 L2409.0,306.3 L2409.5,306.0 L2410.0,305.6 L2410.5,305.8 L2411.0,305.9 L2411.5,306.1 L2412.0,306.2 L2412.5,306.4 L2413.0,306.2 L2413.5,306.1 L2414.0,305.9 L2414.5,305.8 L2415.0,305.6 L2415.5,306.0 L2416.0,306.4 L2416.5,306.8 L2417.0,307.1 L2417.5,307.4 L2418.0,306.4 L2418.5,303.6 L2419.0,295.5 L2419.5,276.7 L2420.0,242.1 L2420.5,194.3 L2421.0,147.2 L2421.5,122.4 L2422.0,132.3 L2422.5,166.8 L2423.0,192.4 L2423.5,164.8 L2424.0,60.9 L2424.5,60.9 L2425.0,61.0 L2425.5,60.6 L2426.0,60.2 L2426.5,59.9 L2427.0,177.4 L2427.5,238.4 L2428.0,212.2 L2428.5,98.5 L2429.0,59.6 L2429.5,59.7 L2430.0,59.8 L2430.5,60.0 L2431.0,60.1 L2431.5,158.7 L2432.0,252.7 L2432.5,290.7 L2433.0,301.0 L2433.5,301.0 L2434.0,296.4 L2434.5,287.2 L2435.0,272.6 L2435.5,253.2 L2436.0,232.0 L2436.5,214.3 L2437.0,205.8 L2437.5,209.4 L2438.0,224.0 L2438.5,244.5 L2439.0,265.1 L2439.5,281.8 L2440.0,293.0 L2440.5,299.4 L2441.0,302.5 L2441.5,303.8 L2442.0,304.3 L2442.5,304.4 L2443.0,304.0 L2443.5,303.4 L2444.0,302.2 L2444.5,300.1 L2445.0,297.2 L2445.5,294.3 L2446.0,292.0 L2446.5,291.4 L2447.0,292.8 L2447.5,295.6 L2448.0,298.6 L2448.5,301.0 L2449.0,302.6 L2449.5,303.4 L2450.0,303.6 L2450.5,303.1 L2451.0,300.9 L2451.5,294.1 L2452.0,275.7 L2452.5,234.1 L2453.0,156.3 L2453.5,60.1 L2454.0,60.1 L2454.5,60.1 L2455.0,60.1 L2455.5,59.9 L2456.0,59.7 L2456.5,59.6 L2457.0,110.9 L2457.5,201.0 L2458.0,244.5 L2458.5,246.3 L2459.0,216.1 L2459.5,169.6 L2460.0,130.0 L2460.5,118.8 L2461.0,143.5 L2461.5,190.5 L2462.0,238.2 L2462.5,272.0 L2463.0,289.7 L2463.5,295.5 L2464.0,294.0 L2464.5,287.4 L2465.0,276.6 L2465.5,262.4 L2466.0,247.0 L2466.5,233.8 L2467.0,226.5 L2467.5,227.3 L2468.0,235.9 L2468.5,249.7 L2469.0,265.1 L2469.5,278.7 L2470.0,288.9 L2470.5,295.4 L2471.0,298.9 L2471.5,300.1 L2472.0,299.1 L2472.5,295.5 L2473.0,287.9 L2473.5,274.6 L2474.0,254.6 L2474.5,228.9 L2475.0,201.1 L2475.5,177.6 L2476.0,164.7 L2476.5,166.3 L2477.0,182.1 L2477.5,207.2 L2478.0,235.0 L2478.5,259.7 L2479.0,278.2 L2479.5,290.2 L2480.0,297.0 L2480.5,300.2 L2481.0,301.5 L2481.5,301.8 L2482.0,301.3 L2482.5,297.8 L2483.0,283.1 L2483.5,236.4 L2484.0,129.0 L2484.5,60.5 L2485.0,60.5 L2485.5,60.5 L2486.0,60.4 L2486.5,60.4 L2487.0,128.8 L2487.5,236.1 L2488.0,282.7 L2488.5,297.4 L2489.0,300.6 L2489.5,300.7 L2490.0,299.4 L2490.5,296.5 L2491.0,289.7 L2491.5,276.4 L2492.0,254.5 L2492.5,224.0 L2493.0,188.6 L2493.5,157.1 L2494.0,139.2 L2494.5,140.9 L2495.0,161.4 L2495.5,194.2 L2496.0,229.1 L2496.5,258.4 L2497.0,278.8 L2497.5,290.9 L2498.0,297.0 L2498.5,299.7 L2499.0,300.7 L2499.5,300.2 L2500.0,295.7 L2500.5,276.5 L2501.0,219.8 L2501.5,98.3 L2502.0,60.3 L2502.5,60.2 L2503.0,60.0 L2503.5,59.8 L2504.0,59.6 L2504.5,154.5 L2505.0,247.5 L2505.5,285.4 L2506.0,296.7 L2506.5,299.1 L2507.0,299.5 L2507.5,299.5 L2508.0,299.8 L2508.5,300.2 L2509.0,300.5 L2509.5,300.7 L2510.0,300.7 L2510.5,299.2 L2511.0,296.1 L2511.5,289.6 L2512.0,277.4 L2512.5,257.7 L2513.0,231.0 L2513.5,200.4 L2514.0,173.4 L2514.5,158.1 L2515.0,160.0 L2515.5,178.4 L2516.0,207.0 L2516.5,237.4 L2517.0,262.9 L2517.5,280.7 L2518.0,291.1 L2518.5,296.0 L2519.0,296.5 L2519.5,288.7 L2520.0,258.5 L2520.5,178.4 L2521.0,59.5 L2521.5,59.3 L2522.0,59.0 L2522.5,58.8 L2523.0,58.7 L2523.5,63.1 L2524.0,198.5 L2524.5,266.0 L2525.0,290.2 L2525.5,296.7 L2526.0,298.2 L2526.5,298.5 L2527.0,298.7 L2527.5,298.5 L2528.0,297.6 L2528.5,295.7 L2529.0,292.4 L2529.5,287.3 L2530.0,280.9 L2530.5,274.3 L2531.0,269.3 L2531.5,267.4 L2532.0,269.3 L2532.5,274.4 L2533.0,280.6 L2533.5,285.9 L2534.0,288.0 L2534.5,285.0 L2535.0,274.9 L2535.5,256.3 L2536.0,229.5 L2536.5,198.8 L2537.0,171.4 L2537.5,155.9 L2538.0,157.5 L2538.5,175.7 L2539.0,204.2 L2539.5,234.6 L2540.0,260.1 L2540.5,277.8 L2541.0,287.7 L2541.5,289.6 L2542.0,277.2 L2542.5,231.5 L2543.0,125.4 L2543.5,59.6 L2544.0,59.9 L2544.5,60.3 L2545.0,60.7 L2545.5,60.4 L2546.0,126.3 L2546.5,232.9 L2547.0,279.1 L2547.5,293.5 L2548.0,296.8 L2548.5,297.3 L2549.0,297.3 L2549.5,297.1 L2550.0,297.0 L2550.5,296.9 L2551.0,296.7 L2551.5,296.5 L2552.0,296.3 L2552.5,296.0 L2553.0,296.0 L2553.5,295.8 L2554.0,295.3 L2554.5,294.4 L2555.0,293.5 L2555.5,292.0 L2556.0,291.0 L2556.5,290.7 L2557.0,291.0 L2557.5,291.8 L2558.0,293.0 L2558.5,294.0 L2559.0,294.5 L2559.5,293.8 L2560.0,291.2 L2560.5,285.8 L2561.0,276.6 L2561.5,264.1 L2562.0,251.0 L2562.5,241.4 L2563.0,238.8 L2563.5,244.4 L2564.0,255.9 L2564.5,269.0 L2565.0,279.5 L2565.5,285.0 L2566.0,284.0 L2566.5,276.0 L2567.0,260.7 L2567.5,239.4 L2568.0,215.5 L2568.5,195.6 L2569.0,185.9 L2569.5,189.8 L2570.0,205.7 L2570.5,228.2 L2571.0,251.0 L2571.5,269.3 L2572.0,281.5 L2572.5,288.4 L2573.0,292.1 L2573.5,293.8 L2574.0,294.5 L2574.5,294.7 L2575.0,294.7 L2575.5,294.2 L2576.0,293.4 L2576.5,292.2 L2577.0,290.7 L2577.5,289.2 L2578.0,287.8 L2578.5,287.1 L2579.0,287.1 L2579.5,287.9 L2580.0,289.3 L2580.5,291.1 L2581.0,292.9 L2581.5,294.3 L2582.0,295.3 L2582.5,296.1 L2583.0,296.3 L2583.5,296.3 L2584.0,296.3 L2584.5,296.3 L2585.0,296.2 L2585.5,296.0 L2586.0,295.8 L2586.5,295.5 L2587.0,295.2 L2587.5,294.5 L2588.0,293.5 L2588.5,291.1 L2589.0,286.8 L2589.5,280.4 L2590.0,272.8 L2590.5,266.0 L2591.0,262.4 L2591.5,263.4 L2592.0,268.0 L2592.5,273.5 L2593.0,276.9 L2593.5,275.7 L2594.0,269.5 L2594.5,259.2 L2595.0,247.5 L2595.5,238.1 L2596.0,233.7 L2596.5,236.0 L2597.0,244.3 L2597.5,256.3 L2598.0,268.3 L2598.5,278.6 L2599.0,285.9 L2599.5,290.3 L2600.0,292.6 L2600.5,294.3 L2601.0,295.2 L2601.5,295.7 L2602.0,296.2 L2602.5,296.6 L2603.0,296.6 L2603.5,296.6 L2604.0,296.6 L2604.5,296.6 L2605.0,296.6 L2605.5,296.2 L2606.0,295.7 L2606.5,295.3 L2607.0,294.9 L2607.5,294.4 L2608.0,294.7 L2608.5,294.9 L2609.0,295.2 L2609.5,295.4 L2610.0,295.7 L2610.5,295.7 L2611.0,295.7 L2611.5,295.7 L2612.0,295.7 L2612.5,295.7 L2613.0,295.6 L2613.5,295.4 L2614.0,295.3 L2614.5,295.2 L2615.0,295.0 L2615.5,295.1 L2616.0,295.1 L2616.5,295.1 L2617.0,294.8 L2617.5,293.9 L2618.0,292.1 L2618.5,288.9 L2619.0,284.1 L2619.5,278.3 L2620.0,272.4 L2620.5,268.4 L2621.0,267.4 L2621.5,269.8 L2622.0,274.4 L2622.5,279.3 L2623.0,282.4 L2623.5,282.3 L2624.0,278.6 L2624.5,272.4 L2625.0,265.4 L2625.5,260.1 L2626.0,258.6 L2626.5,261.5 L2627.0,267.7 L2627.5,275.3 L2628.0,282.9 L2628.5,288.7 L2629.0,292.5 L2629.5,294.8 L2630.0,296.1 L2630.5,296.4 L2631.0,296.4 L2631.5,296.4 L2632.0,296.4 L2632.5,296.4 L2633.0,296.1 L2633.5,295.9 L2634.0,295.6 L2634.5,295.4 L2635.0,295.1 L2635.5,295.4 L2636.0,295.6 L2636.5,295.8 L2637.0,296.1 L2637.5,296.3 L2638.0,296.5 L2638.5,296.6 L2639.0,296.8 L2639.5,297.0 L2640.0,297.1 L2640.5,296.5 L2641.0,296.0 L2641.5,295.4 L2642.0,294.8 L2642.5,294.3 L2643.0,294.4 L2643.5,294.5 L2644.0,294.6 L2644.5,294.6 L2645.0,294.7 L2645.5,294.6 L2646.0,294.6 L2646.5,294.4 L2647.0,294.2 L2647.5,293.9 L2648.0,293.6 L2648.5,293.0 L2649.0,292.1 L2649.5,291.0 L2650.0,289.8 L2650.5,288.4 L2651.0,287.1 L2651.5,285.6 L2652.0,283.3 L2652.5,279.7 L2653.0,275.1 L2653.5,270.6 L2654.0,268.0 L2654.5,268.6 L2655.0,272.2 L2655.5,278.0 L2656.0,283.9 L2656.5,288.5 L2657.0,291.5 L2657.5,293.2 L2658.0,293.6 L2658.5,293.5 L2659.0,293.3 L2659.5,293.1 L2660.0,292.8 L2660.5,292.9 L2661.0,292.9 L2661.5,293.0 L2662.0,293.1 L2662.5,293.2 L2663.0,293.4 L2663.5,293.5 L2664.0,293.7 L2664.5,293.8 L2665.0,293.9 L2665.5,293.4 L2666.0,292.8 L2666.5,292.0 L2667.0,290.9 L2667.5,289.4 L2668.0,287.9 L2668.5,285.7 L2669.0,283.2 L2669.5,280.7 L2670.0,278.7 L2670.5,277.9 L2671.0,278.5 L2671.5,280.2 L2672.0,282.6 L2672.5,285.3 L2673.0,287.4 L2673.5,288.8 L2674.0,289.6 L2674.5,289.7 L2675.0,289.1 L2675.5,288.1 L2676.0,286.6 L2676.5,284.7 L2677.0,282.7 L2677.5,281.3 L2678.0,280.4 L2678.5,280.6 L2679.0,281.7 L2679.5,283.4 L2680.0,285.2 L2680.5,287.4 L2681.0,289.1 L2681.5,290.4 L2682.0,291.2 L2682.5,291.8 L2683.0,291.4 L2683.5,290.8 L2684.0,289.9 L2684.5,288.5 L2685.0,286.7 L2685.5,284.9 L2686.0,283.1 L2686.5,281.5 L2687.0,280.3 L2687.5,278.8 L2688.0,276.1 L2688.5,271.3 L2689.0,264.9 L2689.5,259.7 L2690.0,258.7 L2690.5,262.8 L2691.0,269.3 L2691.5,274.2 L2692.0,274.5 L2692.5,269.7 L2693.0,262.0 L2693.5,255.3 L2694.0,253.2 L2694.5,256.5 L2695.0,263.3 L2695.5,270.5 L2696.0,275.0 L2696.5,275.7 L2697.0,273.4 L2697.5,269.7 L2698.0,266.4 L2698.5,264.8 L2699.0,265.6 L2699.5,268.8 L2700.0,273.3" stroke="#087008" stroke-width="1.1"/>
<path d="M375.6,333.7 L377.8,320.1 L380.9,218.0 L382.5,348.3 L384.7,330.1 L387.0,311.4 L389.3,253.7 L391.1,327.4 L393.0,355.6 L394.8,463.2 L396.9,339.1 L399.0,304.0 L401.1,138.8 L403.1,281.1 L405.2,310.2 L407.3,387.1 L409.3,328.0 L411.3,244.4 L413.5,334.6 L415.7,483.4 L417.6,347.0 L419.5,315.1 L421.5,303.8 L423.4,151.2 L425.3,303.6 L427.1,340.6 L429.0,427.5 L431.4,333.3 L433.8,315.5 L436.1,222.7 L438.5,303.0 L440.8,329.7 L443.1,316.5 L445.5,228.9 L447.4,321.3 L449.3,322.3 L451.3,355.4 L453.2,424.4 L456.3,273.9 L458.7,327.8 L461.0,292.5 L463.2,343.9 L465.3,413.5 L468.1,261.5 L470.0,406.7 L471.9,334.2 L473.7,301.5 L475.6,226.7 L478.1,389.6 L480.9,229.8 L484.1,326.2 L487.4,228.0 L489.7,318.5 L491.9,324.3 L494.2,360.7 L496.7,315.0 L499.2,237.6 L501.7,342.6 L504.2,481.2 L506.6,294.1 L509.8,345.2 L511.9,319.3 L514.1,239.8 L515.8,335.1 L517.5,394.9 L519.8,323.0 L522.2,263.7 L524.1,339.1 L526.1,366.4 L528.0,391.2 L529.9,549.6 L531.9,374.2 L533.9,339.1 L535.8,280.1 L537.5,334.1 L539.3,284.8 L542.4,359.2 L544.7,322.4 L547.0,412.0 L550.1,291.9 L552.2,330.9 L554.3,332.5 L556.3,356.1 L558.4,324.4 L560.4,360.1 L562.2,336.8 L564.1,333.1 L566.0,352.5 L567.8,401.1 L570.2,331.6 L572.5,276.1 L575.0,346.1 L577.5,291.9 L579.3,324.1 L581.2,417.6 L583.3,339.7 L585.3,311.5 L587.4,256.8 L589.3,331.2 L591.1,256.2 L593.1,325.5 L595.2,345.2 L597.5,311.4 L599.8,404.2 L601.4,308.1 L603.6,341.2 L605.7,351.5 L607.9,371.7 L610.1,494.3 L611.8,364.1 L613.5,326.0 L615.2,351.0 L616.9,447.7 L618.9,351.8 L620.9,283.9 L623.3,347.7 L625.6,303.4 L627.8,441.5 L629.6,328.9 L631.5,452.4 L633.5,351.8 L635.5,329.8 L638.0,423.8 L640.4,356.7 L642.8,346.0 L645.2,306.5 L647.3,344.2 L649.5,370.1 L651.4,329.4 L653.2,306.5 L655.7,348.1 L658.2,418.8 L661.3,280.1 L663.9,312.8 L666.6,345.2 L668.2,311.2 L670.4,330.9 L672.7,338.7 L675.0,426.6 L678.1,179.8 L680.1,315.2 L682.2,330.0 L684.3,434.3 L686.3,351.1 L688.3,333.5 L690.3,318.1 L692.4,246.0 L695.2,390.2 L697.2,333.1 L699.2,301.9 L701.7,415.1 L703.9,343.8 L706.0,307.5 L708.4,334.5 L710.8,340.5 L713.2,353.0 L715.3,305.0 L717.8,330.3 L720.3,294.1 L722.4,333.9 L724.5,348.4 L726.5,391.8 L728.8,332.1 L731.1,305.3 L733.4,221.1 L736.5,373.2 L738.6,273.0 L740.7,323.9 L742.7,362.3 L745.8,297.2 L747.6,333.9 L749.5,339.5 L751.4,400.5 L753.7,338.3 L756.0,317.7 L758.4,348.1 L760.7,396.5 L762.9,287.9 L766.1,342.9 L769.4,256.8 L772.5,334.3 L774.7,228.0 L776.7,340.7 L778.7,450.8 L780.8,354.5 L782.8,339.5 L784.9,277.6 L787.5,331.4 L790.2,370.1 L792.3,330.1 L794.3,318.9 L796.4,295.0 L798.7,348.5 L801.1,314.3 L803.2,399.6 L806.3,245.3 L808.8,410.4 L811.0,286.3 L813.5,412.9 L815.3,337.7 L817.2,398.0 L820.3,334.3 L823.4,365.4 L825.9,319.9 L828.2,355.3 L830.6,299.4 L833.2,341.1 L835.8,430.6 L837.7,344.8 L839.6,262.1 L842.0,344.5 L844.5,271.4 L846.1,373.2 L848.1,320.5 L850.1,235.1 L852.5,337.5 L854.8,237.3 L856.6,327.2 L858.5,421.3 L860.5,342.4 L862.5,318.9 L864.6,332.5 L866.7,354.5 L868.8,429.1 L870.8,348.9 L872.9,347.4 L875.0,329.8 L877.1,415.1 L879.3,288.2 L881.3,311.4 L883.4,336.6 L885.4,338.0 L887.4,376.3 L890.2,323.3 L893.0,390.2 L895.2,321.1 L898.0,487.5 L900.4,289.4 L903.7,345.4 L907.0,297.5 L909.1,363.9 L911.8,323.4 L914.4,307.5 L917.5,417.6 L919.5,342.6 L921.6,263.7 L923.4,329.5 L925.3,337.1 L927.1,437.8 L929.6,342.8 L932.1,303.4 L935.2,429.7 L937.2,350.9 L939.3,313.7 L941.0,353.7 L942.7,302.5 L944.4,339.4 L946.1,294.1 L948.6,340.3 L951.1,415.7 L953.2,349.5 L955.4,300.3 L957.1,337.1 L958.8,345.8 L961.1,338.2 L963.5,309.6 L965.8,347.2 L968.1,409.5 L970.1,357.8 L972.1,340.0 L974.0,294.1 L975.6,368.5 L977.9,332.7 L980.2,297.6 L982.4,208.7 L984.3,394.9 L987.4,316.5 L989.4,361.1 L991.4,459.2 L993.6,339.9 L995.8,393.4 L997.8,352.8 L999.9,329.2 L1002.0,281.1 L1004.5,428.4 L1006.8,340.8 L1009.1,281.1 L1011.1,352.6 L1013.2,406.4 L1016.0,274.8 L1017.7,315.3 L1019.4,336.5 L1021.6,324.0 L1023.7,242.2 L1025.4,348.9 L1027.1,405.8 L1029.5,331.1 L1031.8,265.5 L1034.0,340.8 L1036.1,401.1 L1037.9,340.9 L1039.6,221.1 L1042.7,371.6 L1045.3,324.1 L1048.0,425.0 L1050.3,350.5 L1052.6,326.7 L1054.9,347.7 L1057.3,384.0 L1060.4,312.7 L1063.5,215.8 L1065.8,330.3 L1068.1,382.5 L1070.5,339.8 L1072.8,337.6 L1075.1,354.4 L1077.5,435.3 L1079.3,354.6 L1081.2,338.7 L1083.0,269.3 L1085.2,342.2 L1087.4,432.2 L1089.6,330.8 L1091.7,434.3 L1093.6,350.8 L1095.5,322.0 L1098.6,395.5 L1100.6,338.8 L1102.7,330.3 L1104.8,286.3 L1106.6,343.1 L1108.5,385.6 L1111.6,326.3 L1114.7,385.6 L1117.5,328.7 L1120.3,392.4 L1123.4,234.5 L1125.9,351.4 L1127.6,327.6 L1129.3,261.5 L1131.3,363.3 L1133.4,322.0 L1135.8,394.9 L1137.7,328.1 L1139.6,415.7 L1142.0,318.0 L1144.2,340.4 L1146.4,403.3 L1149.5,331.6 L1152.6,404.8 L1154.6,336.2 L1156.6,291.9 L1159.8,346.8 L1161.4,277.0 L1163.4,346.7 L1165.5,349.4 L1167.5,385.6 L1170.0,319.4 L1172.5,438.4 L1174.2,355.3 L1175.9,312.9 L1177.6,317.5 L1179.3,342.1 L1181.8,301.2 L1183.7,350.5 L1185.5,301.9 L1187.4,337.5 L1189.3,344.8 L1191.1,371.6 L1194.2,319.6 L1197.3,373.2 L1199.2,354.8 L1201.1,336.0 L1204.2,363.9 L1206.0,318.2 L1207.9,412.9 L1210.4,303.4 L1212.4,332.3 L1214.5,332.3 L1216.6,334.3 L1219.1,269.6 L1221.1,321.6 L1223.2,327.5 L1225.3,356.1 L1226.9,328.3 L1229.0,380.9 L1231.5,317.4 L1233.7,349.7 L1235.8,387.1 L1238.3,314.3 L1240.8,371.6 L1243.9,297.2 L1246.4,398.6 L1248.6,343.9 L1250.7,298.8 L1252.9,389.3 L1255.6,328.6 L1258.2,259.3 L1259.9,339.8 L1261.6,377.8 L1264.4,308.7 L1266.3,353.9 L1268.1,314.3 L1270.0,361.4 L1273.1,326.3 L1276.2,385.6 L1278.7,301.9 L1281.0,346.9 L1283.4,357.6 L1285.4,322.8 L1287.4,283.9 L1290.5,370.1 L1292.7,320.5 L1295.5,374.7 L1297.2,331.1 L1298.9,286.3 L1302.0,323.5 L1304.5,269.9 L1306.2,329.2 L1307.9,344.7 L1309.6,330.9 L1311.3,283.2 L1313.5,340.6 L1315.1,283.9 L1317.0,327.6 L1319.0,334.7 L1320.9,376.9 L1322.8,297.8 L1324.5,334.5 L1326.2,336.5 L1327.9,334.5 L1329.6,301.9 L1331.5,373.8 L1333.4,334.7 L1335.4,324.6 L1337.3,333.1 L1339.3,370.1 L1341.7,294.1 L1344.5,360.7 L1347.6,329.8 L1350.1,351.3 L1352.6,354.5 L1355.2,341.0 L1357.9,297.2 L1360.1,359.2 L1362.5,320.5 L1365.0,399.6 L1366.9,356.9 L1368.8,311.2 L1370.5,338.9 L1372.2,340.9 L1373.9,326.8 L1375.6,297.2 L1378.7,326.6 L1381.8,284.2 L1383.9,324.4 L1385.9,331.1 L1388.0,361.4 L1390.2,326.6 L1392.4,269.3 L1394.5,357.0 L1396.7,259.3 L1398.6,325.5 L1400.4,339.0 L1402.8,336.3 L1405.1,298.8 L1407.1,333.1 L1409.0,349.0 L1411.0,401.1 L1412.6,329.8 L1415.2,347.2 L1417.8,287.3 L1419.8,357.9 L1421.9,285.7 L1424.7,334.3 L1426.5,332.3 L1428.4,311.2 L1430.9,346.1 L1433.4,385.6 L1435.2,349.7 L1437.1,322.0 L1439.6,367.0 L1441.5,344.3 L1443.4,324.7 L1445.4,341.9 L1447.3,373.2 L1449.2,346.9 L1451.1,311.2 L1454.2,385.6 L1456.3,313.4 L1459.4,377.8 L1461.3,347.3 L1463.2,334.2 L1465.0,314.3 L1467.5,375.7 L1469.4,332.4 L1471.2,277.0 L1473.4,347.4 L1475.6,277.0 L1477.5,374.7 L1479.5,344.9 L1481.5,325.1 L1483.5,353.8 L1485.5,429.1 L1488.3,343.7 L1491.1,387.1 L1493.3,348.2 L1495.5,324.6 L1497.3,355.6 L1499.2,434.7 L1501.3,358.9 L1503.3,339.8 L1505.4,287.9 L1507.3,331.4 L1509.1,379.4 L1511.6,301.9 L1514.7,380.9 L1516.3,283.2 L1518.6,336.0 L1520.9,346.8 L1524.0,311.2 L1525.9,354.9 L1527.8,280.1 L1530.2,366.3 L1532.6,347.0 L1534.9,301.9 L1536.6,346.1 L1538.3,384.0 L1540.5,295.7 L1543.1,337.0 L1545.8,360.7 L1547.4,308.1 L1549.3,336.9 L1551.2,337.0 L1553.2,340.2 L1555.1,376.3 L1557.3,308.7 L1559.9,350.4 L1562.5,413.5 L1565.0,343.4 L1567.5,405.8 L1570.0,337.2 L1572.5,370.1 L1574.3,340.6 L1576.2,331.4 L1579.3,263.0 L1581.2,330.4 L1583.0,331.5 L1584.9,354.5 L1587.7,305.0 L1590.0,330.0 L1592.4,398.0 L1594.1,347.1 L1595.9,343.3 L1597.7,366.1 L1599.5,408.9 L1601.5,347.5 L1603.5,308.7 L1605.7,351.2 L1607.9,329.8 L1610.4,359.2 L1612.2,333.3 L1614.1,308.7 L1617.2,391.2 L1619.2,338.3 L1621.2,391.8 L1623.3,351.4 L1625.4,350.7 L1627.5,343.7 L1629.6,303.4 L1631.6,376.5 L1633.7,332.9 L1635.5,363.8 L1637.4,440.6 L1639.7,379.7 L1642.0,373.2 L1643.6,416.6 L1645.6,340.5 L1647.6,477.8 L1650.3,355.2 L1652.9,430.6 L1654.8,376.0 L1656.6,363.3 L1658.5,360.7 L1660.5,368.2 L1662.5,410.4 L1665.7,439.3 L1667.8,376.1 L1670.0,334.5 L1671.6,388.1 L1674.0,319.9 L1676.1,369.4 L1678.1,324.2 L1681.2,371.0 L1683.8,329.8 L1686.5,483.4 L1689.6,309.6 L1691.5,360.9 L1693.4,375.7 L1695.4,376.4 L1697.3,472.5 L1700.4,312.7 L1703.1,364.3 L1705.7,337.6 L1708.8,432.2 L1710.5,346.9 L1712.2,467.3 L1714.3,379.2 L1716.4,369.1 L1718.4,331.4 L1720.3,354.3 L1722.2,318.9 L1725.3,398.6 L1727.6,358.4 L1729.9,401.1 L1733.0,314.3 L1735.1,346.8 L1737.2,362.2 L1739.3,370.1 L1741.9,344.9 L1744.5,397.4 L1747.0,337.6 L1749.5,408.9 L1751.2,370.1 L1752.9,358.2 L1754.6,368.9 L1756.3,390.2 L1759.0,349.5 L1761.6,289.4 L1763.9,370.2 L1766.3,406.7 L1768.8,319.9 L1770.8,368.3 L1772.8,414.2 L1775.6,312.7 L1778.4,360.5 L1781.2,329.8 L1783.7,374.7 L1785.8,323.6 L1787.5,356.3 L1789.3,397.4 L1792.4,433.7 L1794.1,358.6 L1795.8,289.4 L1797.6,348.6 L1799.5,358.6 L1801.4,367.0 L1803.0,311.8 L1805.3,356.8 L1807.6,372.7 L1809.9,352.4 L1812.2,283.2 L1814.6,354.7 L1816.9,422.2 L1818.9,355.2 L1820.9,329.8 L1822.8,362.4 L1824.7,413.5 L1827.8,301.9 L1830.2,367.0 L1832.1,347.4 L1834.0,284.8 L1836.5,399.6 L1839.6,406.7 L1841.4,368.7 L1843.3,339.1 L1844.9,446.8 L1847.2,377.0 L1849.4,356.7 L1851.7,315.8 L1854.0,365.7 L1856.3,423.8 L1858.4,360.6 L1860.4,298.8 L1862.7,346.3 L1865.0,354.5 L1867.0,348.7 L1868.9,340.5 L1870.9,340.3 L1872.8,283.2 L1875.9,371.6 L1878.1,295.0 L1880.6,387.1 L1883.0,295.0 L1885.5,422.9 L1887.8,362.6 L1890.1,356.6 L1892.4,347.7 L1894.0,403.6 L1896.6,355.4 L1899.2,443.7 L1902.3,353.0 L1905.4,505.2 L1908.5,336.7 L1911.6,414.2 L1913.7,360.6 L1915.8,336.7 L1917.8,291.6 L1919.7,337.1 L1921.6,338.2 L1923.4,370.1 L1925.0,295.0 L1927.3,364.3 L1929.6,498.9 L1932.4,336.0 L1934.9,397.4 L1937.2,361.5 L1939.5,350.6 L1941.7,304.0 L1944.8,388.7 L1946.9,349.2 L1948.9,297.2 L1951.3,344.8 L1953.6,349.9 L1956.0,407.3 L1957.7,349.2 L1959.4,438.4 L1961.9,354.7 L1964.4,396.5 L1967.5,200.3 L1969.2,372.4 L1970.9,249.1 L1973.7,342.1 L1976.8,311.2 L1978.7,459.5 L1981.0,388.2 L1983.4,366.2 L1985.7,356.4 L1988.0,305.0 L1990.8,478.8 L1993.3,322.0 L1995.4,346.5 L1997.4,361.7 L1999.5,413.5 L2001.5,339.3 L2003.5,285.4 L2005.9,353.4 L2008.2,398.0 L2010.4,356.8 L2012.5,298.8 L2015.0,415.1 L2018.1,259.9 L2020.5,320.4 L2022.9,345.4 L2025.3,371.6 L2027.5,347.1 L2029.6,281.7 L2031.6,358.9 L2033.7,289.4 L2035.3,363.9 L2037.7,320.5 L2039.9,367.3 L2042.0,537.1 L2044.5,306.5 L2047.6,388.1 L2050.1,291.0 L2052.8,349.2 L2055.4,320.5 L2057.4,338.6 L2059.4,376.3 L2061.1,352.0 L2062.9,350.0 L2064.6,367.6 L2066.3,467.9 L2068.1,352.2 L2070.0,291.0 L2072.0,350.7 L2074.0,406.4 L2076.4,364.5 L2078.8,359.1 L2081.2,339.1 L2082.8,418.2 L2085.0,368.7 L2087.3,363.2 L2089.6,326.7 L2092.2,358.4 L2094.8,373.2 L2096.9,332.0 L2098.9,267.7 L2102.0,339.0 L2104.1,337.0 L2106.1,337.0 L2108.2,326.7 L2110.4,364.5 L2113.5,275.5 L2115.5,332.9 L2117.5,362.3 L2119.2,347.6 L2120.9,322.4 L2122.6,350.6 L2124.3,376.3 L2126.5,355.0 L2128.7,333.3 L2130.9,327.5 L2133.0,283.2 L2135.4,352.3 L2137.7,426.9 L2140.0,356.6 L2142.4,314.3 L2144.5,388.7 L2147.6,300.3 L2149.3,369.8 L2151.1,328.3 L2153.9,408.0 L2155.6,355.8 L2157.3,332.9 L2159.9,355.5 L2162.5,397.4 L2164.9,342.3 L2167.2,373.2 L2169.8,341.5 L2172.5,303.4 L2175.0,365.7 L2177.5,457.0 L2179.6,355.1 L2181.8,450.2 L2184.9,309.6 L2187.4,348.7 L2189.9,367.0 L2192.7,323.0 L2194.8,369.4 L2197.2,352.2 L2199.6,344.0 L2202.0,331.4 L2203.6,343.7 L2206.0,338.8 L2208.5,296.3 L2210.8,326.8 L2213.1,351.1 L2215.3,407.3 L2217.4,331.1 L2219.4,458.0 L2221.5,367.4 L2223.6,338.1 L2225.7,353.8 L2227.8,437.5 L2229.8,361.3 L2231.9,340.1 L2234.0,258.4 L2236.3,333.4 L2238.6,396.5 L2240.5,351.5 L2242.4,337.7 L2244.2,281.7 L2246.3,337.8 L2248.4,347.3 L2250.4,354.5 L2252.0,278.6 L2254.2,481.9 L2256.5,376.7 L2258.9,352.1 L2261.3,315.8 L2264.4,475.7 L2266.3,367.4 L2268.1,328.3 L2270.0,362.5 L2271.9,444.6 L2275.0,301.9 L2277.0,347.8 L2279.0,357.6 L2282.1,329.8 L2284.1,354.3 L2286.1,254.3 L2289.3,393.4 L2291.1,335.8 L2293.0,405.8 L2296.1,335.5 L2299.2,399.6 L2301.1,357.6 L2302.9,328.3 L2305.2,397.5 L2307.9,350.5 L2310.7,298.8 L2313.6,496.5 L2315.8,381.8 L2318.0,369.7 L2320.2,377.7 L2322.4,418.0 L2325.6,326.7 L2327.6,367.7 L2329.7,377.2 L2331.7,416.0 L2333.7,385.0 L2335.7,371.9 L2337.6,365.2 L2339.6,278.6 L2342.3,396.0 L2344.5,391.9 L2346.8,356.6 L2349.0,415.0 L2351.2,563.2 L2353.5,400.0 L2355.9,495.0 L2358.0,410.0 L2360.2,526.0 L2361.9,331.4 L2365.2,465.0 L2368.0,395.0 L2370.0,445.5 L2372.0,597.4 L2374.0,425.7 L2375.9,379.8 L2377.9,418.7 L2379.8,504.8 L2381.7,414.2 L2383.6,400.6 L2385.5,332.8 L2388.2,415.7 L2390.8,309.6 L2393.3,360.7 L2395.5,317.4 L2398.0,356.1 L2400.1,323.6 L2402.5,361.8 L2404.9,379.6 L2407.3,385.6 L2410.4,356.1 L2412.2,393.5 L2414.0,416.3 L2416.4,398.6 L2418.8,371.6 L2422.0,770.3 L2423.9,681.0 L2425.9,716.6 L2427.8,478.0 L2429.5,591.2 L2432.0,440.3 L2434.6,371.0 L2436.8,395.9 L2439.1,409.3 L2441.3,432.8 L2443.4,400.5 L2445.5,388.9 L2447.6,323.6 L2449.9,387.3 L2452.2,403.3 L2453.9,258.4 L2456.6,402.7 L2459.3,581.2 L2461.7,418.2 L2464.1,322.7 L2466.4,386.3 L2468.8,346.8 L2471.2,405.0 L2473.6,453.6 L2476.1,637.1 L2478.0,440.7 L2479.9,416.5 L2481.8,359.2 L2484.8,478.8 L2488.0,360.1 L2490.2,413.6 L2492.5,415.5 L2494.7,506.4 L2498.0,353.9 L2500.0,386.1 L2502.0,397.2 L2504.0,400.2 L2506.6,363.9 L2508.9,390.8 L2511.2,445.2 L2514.4,336.0 L2517.4,425.0 L2519.7,308.1 L2522.1,362.7 L2524.5,436.8 L2526.5,366.9 L2528.4,314.3 L2530.2,362.9 L2532.1,270.8 L2534.3,353.8 L2536.4,411.1 L2538.7,368.5 L2541.0,348.3 L2543.3,320.5 L2545.0,366.8 L2546.6,393.7 L2549.0,370.0 L2551.4,350.2 L2553.9,316.5 L2555.9,361.7 L2557.9,336.0 L2560.1,398.0 L2562.0,352.1 L2564.0,470.7 L2566.6,371.6 L2568.9,440.6 L2571.6,365.3 L2574.3,323.0 L2576.6,348.5 L2578.8,368.8 L2581.1,394.9 L2582.7,317.4 L2585.2,358.3 L2587.6,443.7 L2589.3,364.7 L2591.1,303.4 L2594.4,445.2 L2597.1,340.7 L2599.8,387.1 L2602.9,345.2 L2605.2,389.8 L2607.6,346.1 L2609.8,362.1 L2612.1,431.2 L2614.7,358.4 L2617.2,333.2 L2618.9,411.1 L2621.0,352.9 L2623.1,270.2 L2625.1,371.9 L2627.1,305.0 L2630.2,373.2 L2633.4,295.0 L2636.5,381.6 L2638.6,314.3 L2641.7,363.2 L2643.6,355.7 L2645.5,313.7 L2648.4,406.4 L2650.8,357.2 L2653.2,329.8 L2655.7,370.1 L2657.9,262.1 L2660.2,341.4 L2662.4,409.5 L2665.7,300.3 L2667.8,355.5 L2669.9,397.5 L2671.9,360.4 L2673.9,356.2 L2675.9,342.1 L2679.0,315.2 L2680.6,373.2 L2683.7,305.6 L2685.7,358.9 L2687.7,370.6 L2689.8,428.1 L2691.7,354.2 L2693.6,314.3 L2696.0,474.7 L2698.2,477.1 L2700.4,472.8" stroke="#000" stroke-width="4.6"/>
</g>
<g stroke="#000" stroke-width="3.33" fill="none">
<rect x="375.6" y="108.5" width="2324.7" height="693.0"/>
<line x1="503.5" y1="801.5" x2="503.5" y2="816.9"/>
<line x1="1014.5" y1="801.5" x2="1014.5" y2="816.9"/>
<line x1="1525.5" y1="801.5" x2="1525.5" y2="816.9"/>
<line x1="2036.5" y1="801.5" x2="2036.5" y2="816.9"/>
<line x1="2547.5" y1="801.5" x2="2547.5" y2="816.9"/>
<line x1="360.4" y1="185.3" x2="375.6" y2="185.3"/>
<line x1="360.4" y1="284.7" x2="375.6" y2="284.7"/>
<line x1="360.4" y1="384.0" x2="375.6" y2="384.0"/>
<line x1="360.4" y1="483.4" x2="375.6" y2="483.4"/>
<line x1="360.4" y1="582.8" x2="375.6" y2="582.8"/>
<line x1="360.4" y1="682.2" x2="375.6" y2="682.2"/>
<line x1="360.4" y1="781.5" x2="375.6" y2="781.5"/>
</g>
<g opacity="0.999">
<text transform="translate(978.60,83.80) scale(1.1104,1)" x="-3.00" y="0" font-size="51">Spectrum</text>
<text transform="translate(1236.50,83.80) scale(1.1750,1)" x="-2.00" y="0" font-size="51">of</text>
<text transform="translate(1300.00,83.80) scale(1.1343,1)" x="-2.00" y="0" font-size="51">object</text>
<text transform="translate(1471.40,83.80) scale(1.0993,1)" x="-2.00" y="0" font-size="51">09883</text>
<text transform="translate(1648.00,83.80) scale(1.1152,1)" x="-3.00" y="0" font-size="51">in</text>
<text transform="translate(1707.00,83.80) scale(1.0941,1)" x="-2.00" y="0" font-size="51">candels-cdfs-28</text>
<text transform="translate(313.50,199.00) scale(1.0815,1)" x="-4.00" y="0" font-size="39">.0</text>
<text transform="translate(288.60,298.37) scale(1.0627,1)" x="-2.00" y="0" font-size="39">0.5</text>
<text transform="translate(288.60,397.74) scale(1.0667,1)" x="-2.00" y="0" font-size="39">0.0</text>
<text transform="translate(288.60,497.11) scale(1.0627,1)" x="-2.00" y="0" font-size="39">0.5</text>
<text transform="translate(314.00,596.48) scale(1.0815,1)" x="-4.00" y="0" font-size="39">.0</text>
<text transform="translate(314.00,695.85) scale(1.0815,1)" x="-4.00" y="0" font-size="39">.5</text>
<text transform="translate(288.60,795.22) scale(1.0667,1)" x="-2.00" y="0" font-size="39">2.0</text>
<text transform="translate(468.10,852.00) scale(1.1111,1)" x="-1.00" y="0" font-size="29">5000</text>
<text transform="translate(979.10,852.00) scale(1.1290,1)" x="-2.00" y="0" font-size="29">6000</text>
<text transform="translate(1490.10,852.00) scale(1.1290,1)" x="-2.00" y="0" font-size="29">7000</text>
<text transform="translate(2001.10,852.00) scale(1.1111,1)" x="-1.00" y="0" font-size="29">8000</text>
<text transform="translate(2512.10,852.00) scale(1.1111,1)" x="-1.00" y="0" font-size="29">9000</text>
<text transform="translate(1439.30,888.10) scale(1.1241,1)" x="-0.00" y="0" font-size="33.5">Wavelength</text>
<text transform="translate(224.80,681.70) rotate(-90) scale(1.0818,1)" x="-2.00" y="0" font-size="46.6">0</text>
<text transform="translate(206.80,606.10) rotate(-90) scale(1.0188,1)" x="-1.00" y="0" font-size="32.7">8</text>
<text transform="translate(224.80,568.70) rotate(-90) scale(1.1242,1)" x="-2.00" y="0" font-size="46.6">erg</text>
<text transform="translate(224.80,478.80) rotate(-90) scale(0.9700,1)" x="-2.00" y="0" font-size="46.6">s</text>
<text transform="translate(224.80,398.70) rotate(-90) scale(1.1456,1)" x="-2.00" y="0" font-size="46.6">cm</text>
<text transform="translate(206.80,300.60) rotate(-90) scale(1.0067,1)" x="-2.00" y="0" font-size="32.7">2</text>
<text transform="translate(224.80,273.30) rotate(-90) scale(0.9645,1)" x="-0.00" y="0" font-size="46.6">Å</text>
<path transform="translate(289.50,199.00)" d="M0.55,-3.20 L6.77,-3.20 L6.77,-24.67 L0.00,-23.31 L0.00,-26.78 L6.73,-28.14 L10.54,-28.14 L10.54,-3.20 L16.76,-3.20 L16.76,0.00 L0.55,0.00Z" fill="#000"/>
<rect x="258.9" y="482.86" width="23.7" height="3.3" fill="#000"/>
<rect x="258.9" y="582.23" width="23.7" height="3.3" fill="#000"/>
<path transform="translate(290.00,596.48)" d="M0.55,-3.20 L6.77,-3.20 L6.77,-24.67 L0.00,-23.31 L0.00,-26.78 L6.73,-28.14 L10.54,-28.14 L10.54,-3.20 L16.76,-3.20 L16.76,0.00 L0.55,0.00Z" fill="#000"/>
<rect x="258.9" y="681.60" width="23.7" height="3.3" fill="#000"/>
<path transform="translate(290.00,695.85)" d="M0.55,-3.20 L6.77,-3.20 L6.77,-24.67 L0.00,-23.31 L0.00,-26.78 L6.73,-28.14 L10.54,-28.14 L10.54,-3.20 L16.76,-3.20 L16.76,0.00 L0.55,0.00Z" fill="#000"/>
<rect x="258.9" y="780.97" width="23.7" height="3.3" fill="#000"/>
<path transform="translate(224.80,709.70) rotate(-90)" d="M0.65,-3.80 L8.03,-3.80 L8.03,-29.29 L0.00,-27.68 L0.00,-31.80 L7.99,-33.41 L12.51,-33.41 L12.51,-3.80 L19.89,-3.80 L19.89,0.00 L0.65,0.00Z" fill="#000"/>
<path transform="translate(206.80,626.00) rotate(-90)" d="M0.45,-2.66 L5.62,-2.66 L5.62,-20.50 L0.00,-19.38 L0.00,-22.26 L5.59,-23.39 L8.76,-23.39 L8.76,-2.66 L13.93,-2.66 L13.93,0.00 L0.45,0.00Z" fill="#000"/>
<path transform="translate(206.80,425.40) rotate(-90)" d="M0.45,-2.66 L5.62,-2.66 L5.62,-20.50 L0.00,-19.38 L0.00,-22.26 L5.59,-23.39 L8.76,-23.39 L8.76,-2.66 L13.93,-2.66 L13.93,0.00 L0.45,0.00Z" fill="#000"/>
<path transform="translate(206.80,211.40) rotate(-90)" d="M0.45,-2.66 L5.62,-2.66 L5.62,-20.50 L0.00,-19.38 L0.00,-22.26 L5.59,-23.39 L8.76,-23.39 L8.76,-2.66 L13.93,-2.66 L13.93,0.00 L0.45,0.00Z" fill="#000"/>
<rect x="195.05" y="218.70" width="3.0" height="20.10" fill="#000"/>
<rect x="195.05" y="306.20" width="3.0" height="20.20" fill="#000"/>
<rect x="195.05" y="432.70" width="3.0" height="19.90" fill="#000"/>
<rect x="195.05" y="633.00" width="3.0" height="19.70" fill="#000"/>
</g>
</svg>
</body></html>
